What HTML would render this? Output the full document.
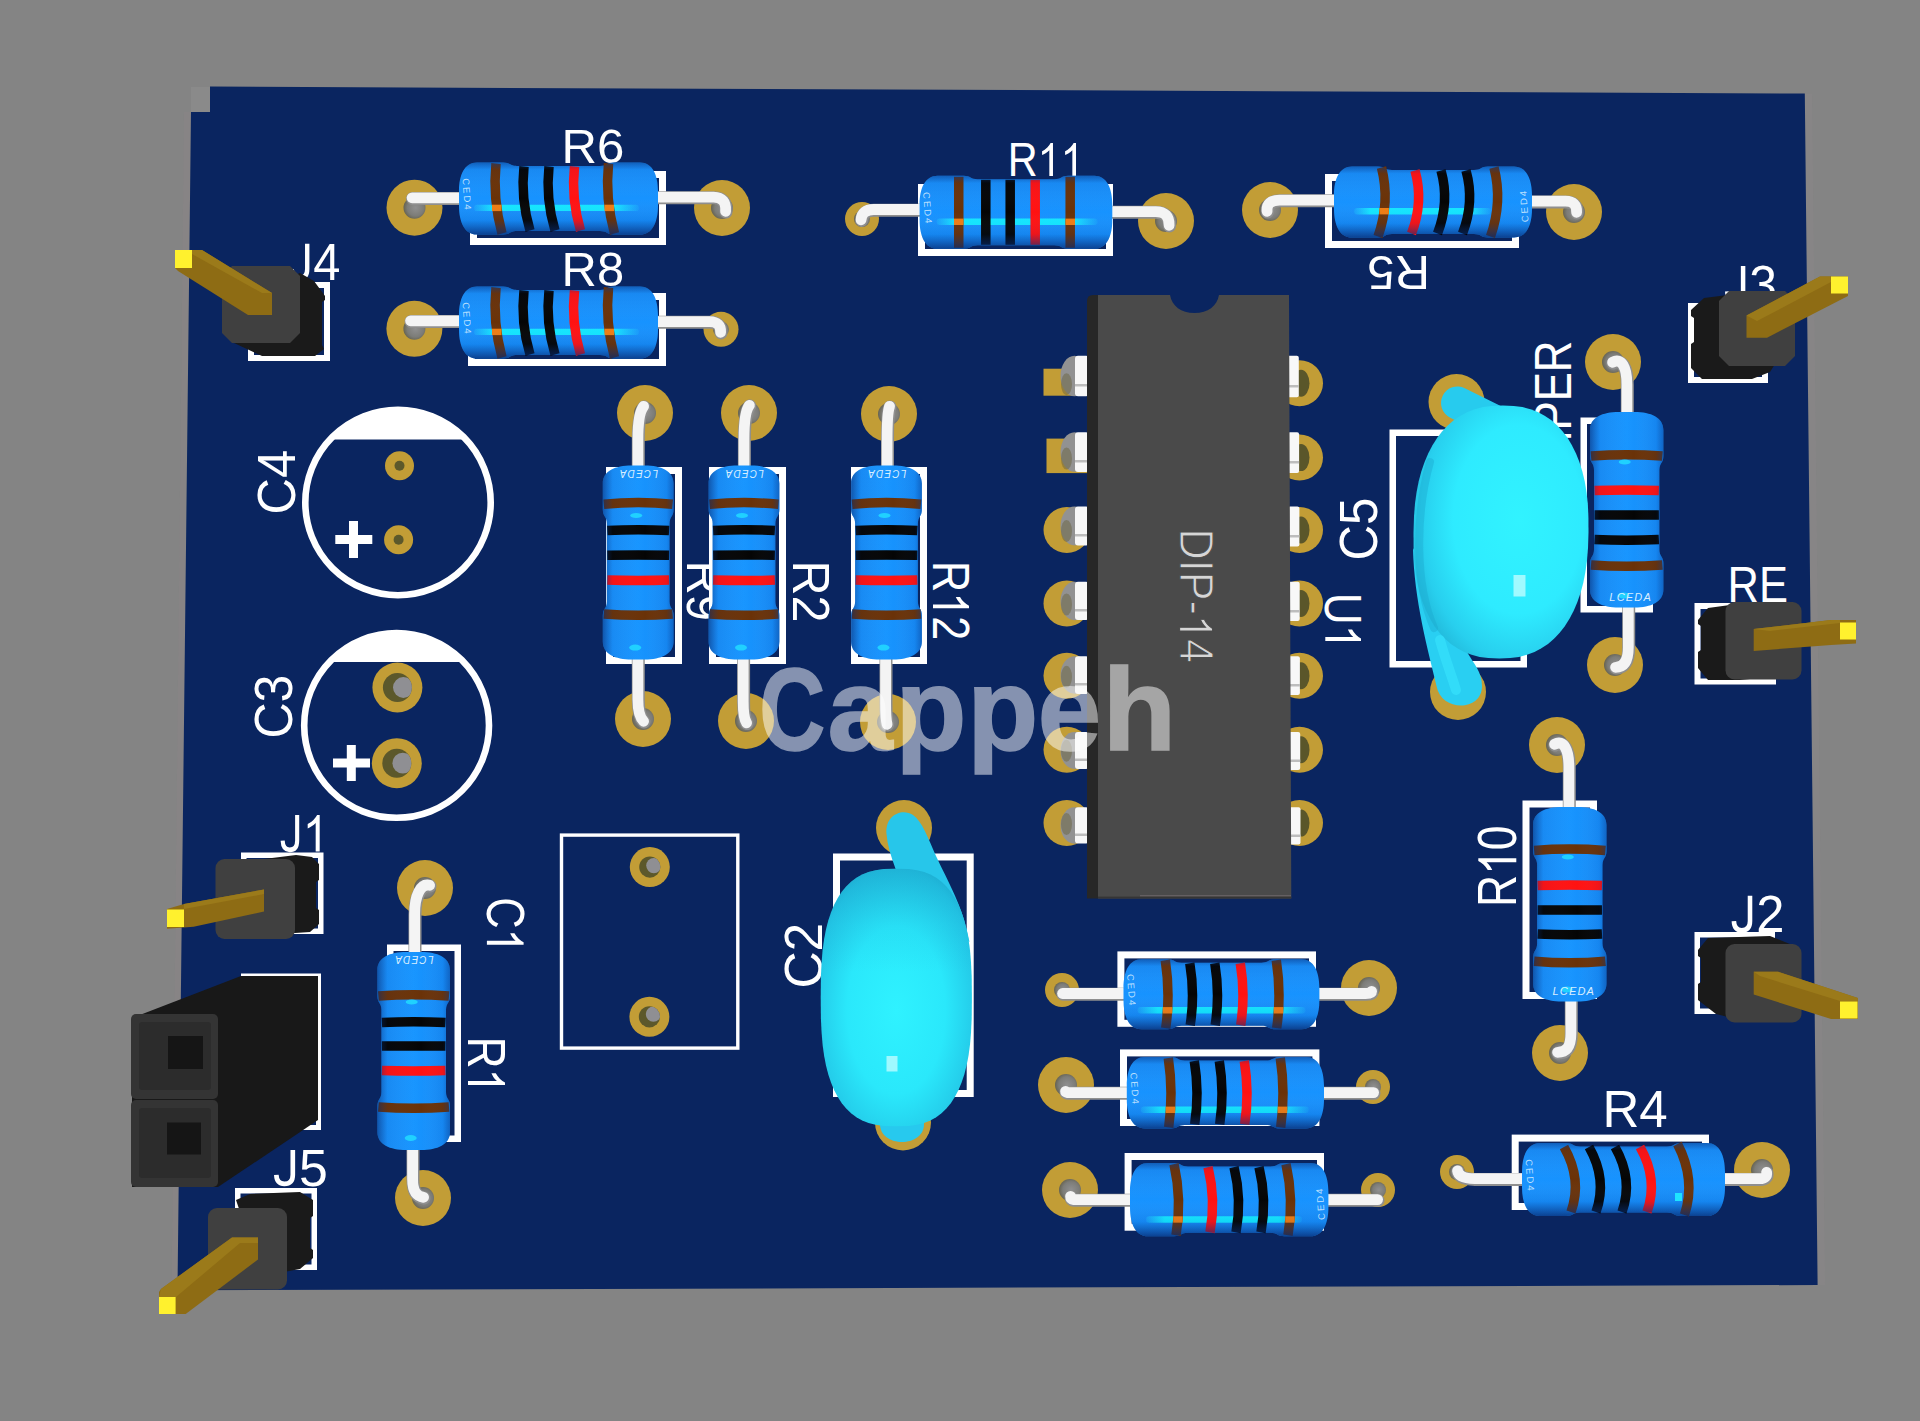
<!DOCTYPE html>
<html><head><meta charset="utf-8"><title>PCB 3D view</title>
<style>html,body{margin:0;padding:0;background:#848484;}svg{display:block;}</style></head><body>
<svg width="1920" height="1421" viewBox="0 0 1920 1421">
<defs>
<radialGradient id="hole" cx="0.55" cy="0.5" r="0.75">
 <stop offset="0" stop-color="#909090"/><stop offset="0.5" stop-color="#7c7c78"/><stop offset="1" stop-color="#4e4724"/>
</radialGradient>
<linearGradient id="gH" x1="0" y1="0" x2="0" y2="1">
 <stop offset="0" stop-color="#1a8cf6"/><stop offset="0.5" stop-color="#1793ff"/><stop offset="1" stop-color="#1688f4"/>
</linearGradient>
<linearGradient id="gHs" x1="0" y1="0" x2="0" y2="1">
 <stop offset="0" stop-color="#0a3a8a" stop-opacity="0.55"/>
 <stop offset="0.10" stop-color="#0a3a8a" stop-opacity="0.05"/>
 <stop offset="0.5" stop-color="#ffffff" stop-opacity="0.0"/>
 <stop offset="0.80" stop-color="#0a3a8a" stop-opacity="0.08"/>
 <stop offset="1" stop-color="#082a70" stop-opacity="0.75"/>
</linearGradient>
<linearGradient id="gV" x1="0" y1="0" x2="0" y2="1">
 <stop offset="0" stop-color="#1a8cf6"/><stop offset="0.5" stop-color="#1795ff"/><stop offset="1" stop-color="#1688f4"/>
</linearGradient>
<linearGradient id="gVs" x1="0" y1="0" x2="0" y2="1">
 <stop offset="0" stop-color="#082a70" stop-opacity="0.55"/>
 <stop offset="0.14" stop-color="#0a3a8a" stop-opacity="0.05"/>
 <stop offset="0.6" stop-color="#ffffff" stop-opacity="0.0"/>
 <stop offset="0.90" stop-color="#0a3a8a" stop-opacity="0.06"/>
 <stop offset="1" stop-color="#0a3a8a" stop-opacity="0.45"/>
</linearGradient>
<radialGradient id="gC" cx="0.6" cy="0.45" r="0.68">
 <stop offset="0" stop-color="#31f3ff"/><stop offset="0.55" stop-color="#2eebff"/><stop offset="0.82" stop-color="#28cfee"/><stop offset="1" stop-color="#20b2d4"/>
</radialGradient>
<radialGradient id="gC2" cx="0.5" cy="0.55" r="0.65">
 <stop offset="0" stop-color="#2ff2ff"/><stop offset="0.5" stop-color="#2ae8fb"/><stop offset="0.85" stop-color="#23c6e6"/><stop offset="1" stop-color="#1ba8cc"/>
</radialGradient>
<linearGradient id="gHi" x1="0" y1="0" x2="1" y2="0">
 <stop offset="0" stop-color="#1fe4ff" stop-opacity="0.15"/><stop offset="0.12" stop-color="#12e6ff" stop-opacity="1"/>
 <stop offset="0.85" stop-color="#12e6ff" stop-opacity="1"/><stop offset="1" stop-color="#1fe4ff" stop-opacity="0.1"/>
</linearGradient>
<linearGradient id="gC2top" x1="0" y1="0" x2="0" y2="1">
 <stop offset="0" stop-color="#1a9cc4" stop-opacity="0.45"/><stop offset="0.22" stop-color="#1fb4d8" stop-opacity="0.18"/>
 <stop offset="0.4" stop-color="#1fb4d8" stop-opacity="0"/><stop offset="1" stop-color="#1fb4d8" stop-opacity="0"/>
</linearGradient>
</defs>
<rect width="1920" height="1421" fill="#848484"/>
<polygon points="191,87 210,87 210,112 191,112" fill="#8a8a8a"/><polygon points="184,112 191,112 177.5,1291 171.5,1291" fill="#888485" opacity="0.6"/>
<polygon points="1804.8,93.5 1812,93.5 1825,1285 1817.6,1285" fill="#8a8788" opacity="0.55"/>
<polygon points="210,86.6 1804.8,93.5 1817.6,1285 177.5,1290.3 191,112 210,112" fill="#0a2560"/>
<g id="silk">
<rect x="473.5" y="174.5" width="189" height="67" fill="none" stroke="#fff" stroke-width="7"/>
<rect x="471.5" y="296.5" width="191" height="66" fill="none" stroke="#fff" stroke-width="7"/>
<rect x="921.5" y="187.5" width="188" height="65" fill="none" stroke="#fff" stroke-width="7"/>
<rect x="1328.5" y="177.5" width="187" height="67" fill="none" stroke="#fff" stroke-width="7"/>
<g transform="translate(565.5,163.3) rotate(0) scale(0.4913,0.4826) translate(-8.0,0)" fill="#fff">
<text x="0.0" y="0" font-family="Liberation Sans, sans-serif" font-size="100">R6</text>
</g>
<g transform="translate(565.5,286.0) rotate(0) scale(0.4892,0.4783) translate(-8.0,0)" fill="#fff">
<text x="0.0" y="0" font-family="Liberation Sans, sans-serif" font-size="100">R8</text>
</g>
<g transform="translate(1011.0,176.0) rotate(0) scale(0.4140,0.4783) translate(-8.0,0)" fill="#fff">
<text x="0.0" y="0" font-family="Liberation Sans, sans-serif" font-size="100">R</text>
<path transform="translate(72.2,0)" d="M 37.2,0 L 28.4,0 L 28.4,-54 Q 25,-50.6 19.5,-47.5 Q 15,-45.1 10.9,-43.7 L 10.9,-51.8 Q 18,-55 23.5,-59.7 Q 29,-64.5 31.5,-69 L 37.2,-69 Z"/>
<path transform="translate(127.8,0)" d="M 37.2,0 L 28.4,0 L 28.4,-54 Q 25,-50.6 19.5,-47.5 Q 15,-45.1 10.9,-43.7 L 10.9,-51.8 Q 18,-55 23.5,-59.7 Q 29,-64.5 31.5,-69 L 37.2,-69 Z"/>
</g>
<g transform="translate(1426.0,255.5) rotate(180) scale(0.4892,0.4855) translate(-8.0,0)" fill="#fff">
<text x="0.0" y="0" font-family="Liberation Sans, sans-serif" font-size="100">R5</text>
</g>
<g transform="translate(289.5,280.0) rotate(0) scale(0.4881,0.5261) translate(-1.5,0)" fill="#fff">
<path transform="translate(0.0,0)" d="M 37.8,-69 L 37.8,-21 C 37.8,-8 31,-3.2 21.5,-3.2 C 12,-3.2 6.5,-9 6,-20.5" fill="none" stroke="#fff" stroke-width="9"/>
<text x="50.0" y="0" font-family="Liberation Sans, sans-serif" font-size="100">4</text>
</g>
<g transform="translate(1725.0,302.0) rotate(0) scale(0.4985,0.5217) translate(-1.5,0)" fill="#fff">
<path transform="translate(0.0,0)" d="M 37.8,-69 L 37.8,-21 C 37.8,-8 31,-3.2 21.5,-3.2 C 12,-3.2 6.5,-9 6,-20.5" fill="none" stroke="#fff" stroke-width="9"/>
<text x="50.0" y="0" font-family="Liberation Sans, sans-serif" font-size="100">3</text>
</g>
<g transform="translate(1731.0,602.0) rotate(0) scale(0.4348,0.5000) translate(-8.0,0)" fill="#fff">
<text x="0.0" y="0" font-family="Liberation Sans, sans-serif" font-size="100">RE</text>
</g>
<g transform="translate(280.6,851.5) rotate(0) scale(0.4562,0.5290) translate(-1.5,0)" fill="#fff">
<path transform="translate(0.0,0)" d="M 37.8,-69 L 37.8,-21 C 37.8,-8 31,-3.2 21.5,-3.2 C 12,-3.2 6.5,-9 6,-20.5" fill="none" stroke="#fff" stroke-width="9"/>
<path transform="translate(50.0,0)" d="M 37.2,0 L 28.4,0 L 28.4,-54 Q 25,-50.6 19.5,-47.5 Q 15,-45.1 10.9,-43.7 L 10.9,-51.8 Q 18,-55 23.5,-59.7 Q 29,-64.5 31.5,-69 L 37.2,-69 Z"/>
</g>
<g transform="translate(274.0,1185.5) rotate(0) scale(0.5180,0.5145) translate(-1.5,0)" fill="#fff">
<path transform="translate(0.0,0)" d="M 37.8,-69 L 37.8,-21 C 37.8,-8 31,-3.2 21.5,-3.2 C 12,-3.2 6.5,-9 6,-20.5" fill="none" stroke="#fff" stroke-width="9"/>
<text x="50.0" y="0" font-family="Liberation Sans, sans-serif" font-size="100">5</text>
</g>
<g transform="translate(1731.6,932.0) rotate(0) scale(0.5071,0.5261) translate(-1.5,0)" fill="#fff">
<path transform="translate(0.0,0)" d="M 37.8,-69 L 37.8,-21 C 37.8,-8 31,-3.2 21.5,-3.2 C 12,-3.2 6.5,-9 6,-20.5" fill="none" stroke="#fff" stroke-width="9"/>
<text x="50.0" y="0" font-family="Liberation Sans, sans-serif" font-size="100">2</text>
</g>
<rect x="251.0" y="285.0" width="76" height="73" fill="none" stroke="#fff" stroke-width="6"/>
<rect x="1691.0" y="306.0" width="74" height="74" fill="none" stroke="#fff" stroke-width="6"/>
<rect x="1697.5" y="606.0" width="75.5" height="75.5" fill="none" stroke="#fff" stroke-width="6"/>
<rect x="243.75" y="855.25" width="77.0" height="76.0" fill="none" stroke="#fff" stroke-width="5.5"/>
<rect x="243.5" y="976.0" width="75" height="151.5" fill="none" stroke="#fff" stroke-width="5"/>
<rect x="237.75" y="1190.75" width="76.5" height="76.5" fill="none" stroke="#fff" stroke-width="5.5"/>
<rect x="1697.25" y="934.75" width="75.0" height="76.5" fill="none" stroke="#fff" stroke-width="5.5"/>
<path d="M 330.0,439.5 A 92.7,92.7 0 0 1 466.0,439.5 Z" fill="#fff"/>
<circle cx="398" cy="502.5" r="92.7" fill="none" stroke="#fff" stroke-width="6.6"/>
<path d="M 329.4,662 A 92.4,92.4 0 0 1 463.8,662 Z" fill="#fff"/>
<circle cx="396.6" cy="725.4" r="92.4" fill="none" stroke="#fff" stroke-width="6.6"/>
<g transform="translate(294.5,512.0) rotate(-90) scale(0.5063,0.5290) translate(-5.0,0)" fill="#fff">
<text x="0.0" y="0" font-family="Liberation Sans, sans-serif" font-size="100">C4</text>
</g>
<g transform="translate(292.0,736.0) rotate(-90) scale(0.5000,0.5362) translate(-5.0,0)" fill="#fff">
<text x="0.0" y="0" font-family="Liberation Sans, sans-serif" font-size="100">C3</text>
</g>
<path d="M 335.3,539.5 H 372.3 M 353.5,521 V 558" stroke="#fff" stroke-width="9" fill="none"/>
<path d="M 333,763 H 370 M 351.3,745 V 781" stroke="#fff" stroke-width="9" fill="none"/>
<rect x="609.5" y="470.5" width="69" height="190" fill="none" stroke="#fff" stroke-width="7"/>
<rect x="712.5" y="470.5" width="70" height="190" fill="none" stroke="#fff" stroke-width="7"/>
<rect x="854.5" y="470.5" width="69" height="190" fill="none" stroke="#fff" stroke-width="7"/>
<g transform="translate(687.0,564.5) rotate(90) scale(0.4696,0.5217) translate(-8.0,0)" fill="#fff">
<text x="0.0" y="0" font-family="Liberation Sans, sans-serif" font-size="100">R9</text>
</g>
<g transform="translate(792.6,564.5) rotate(90) scale(0.4847,0.5232) translate(-8.0,0)" fill="#fff">
<text x="0.0" y="0" font-family="Liberation Sans, sans-serif" font-size="100">R2</text>
</g>
<g transform="translate(933.0,564.5) rotate(90) scale(0.4315,0.5217) translate(-8.0,0)" fill="#fff">
<text x="0.0" y="0" font-family="Liberation Sans, sans-serif" font-size="100">R</text>
<path transform="translate(72.2,0)" d="M 37.2,0 L 28.4,0 L 28.4,-54 Q 25,-50.6 19.5,-47.5 Q 15,-45.1 10.9,-43.7 L 10.9,-51.8 Q 18,-55 23.5,-59.7 Q 29,-64.5 31.5,-69 L 37.2,-69 Z"/>
<text x="127.8" y="0" font-family="Liberation Sans, sans-serif" font-size="100">2</text>
</g>
<g transform="translate(1325.3,596.0) rotate(90) scale(0.4415,0.5174) translate(-7.5,0)" fill="#fff">
<text x="0.0" y="0" font-family="Liberation Sans, sans-serif" font-size="100">U</text>
<path transform="translate(72.2,0)" d="M 37.2,0 L 28.4,0 L 28.4,-54 Q 25,-50.6 19.5,-47.5 Q 15,-45.1 10.9,-43.7 L 10.9,-51.8 Q 18,-55 23.5,-59.7 Q 29,-64.5 31.5,-69 L 37.2,-69 Z"/>
</g>
<g transform="translate(1377.3,558.0) rotate(-90) scale(0.4920,0.5406) translate(-5.0,0)" fill="#fff">
<text x="0.0" y="0" font-family="Liberation Sans, sans-serif" font-size="100">C5</text>
</g>
<rect x="1392.75" y="432.75" width="131.0" height="231.5" fill="none" stroke="#fff" stroke-width="6.5"/>
<g transform="translate(1571.0,520.0) rotate(-90) scale(0.4383,0.5217) translate(-1.5,0)" fill="#fff">
<path transform="translate(0.0,0)" d="M 37.8,-69 L 37.8,-21 C 37.8,-8 31,-3.2 21.5,-3.2 C 12,-3.2 6.5,-9 6,-20.5" fill="none" stroke="#fff" stroke-width="9"/>
<text x="50.0" y="0" font-family="Liberation Sans, sans-serif" font-size="100">UMPER</text>
</g>
<rect x="1583.75" y="420.75" width="66.0" height="188.5" fill="none" stroke="#fff" stroke-width="6.5"/>
<g transform="translate(1516.3,903.4) rotate(-90) scale(0.4442,0.5507) translate(-8.0,0)" fill="#fff">
<text x="0.0" y="0" font-family="Liberation Sans, sans-serif" font-size="100">R</text>
<path transform="translate(72.2,0)" d="M 37.2,0 L 28.4,0 L 28.4,-54 Q 25,-50.6 19.5,-47.5 Q 15,-45.1 10.9,-43.7 L 10.9,-51.8 Q 18,-55 23.5,-59.7 Q 29,-64.5 31.5,-69 L 37.2,-69 Z"/>
<text x="127.8" y="0" font-family="Liberation Sans, sans-serif" font-size="100">0</text>
</g>
<rect x="1526.0" y="804.0" width="67.5" height="191.5" fill="none" stroke="#fff" stroke-width="7"/>
<rect x="390.25" y="947.75" width="67.5" height="191.0" fill="none" stroke="#fff" stroke-width="6.5"/>
<g transform="translate(468.0,1040.0) rotate(90) scale(0.4437,0.5362) translate(-8.0,0)" fill="#fff">
<text x="0.0" y="0" font-family="Liberation Sans, sans-serif" font-size="100">R</text>
<path transform="translate(72.2,0)" d="M 37.2,0 L 28.4,0 L 28.4,-54 Q 25,-50.6 19.5,-47.5 Q 15,-45.1 10.9,-43.7 L 10.9,-51.8 Q 18,-55 23.5,-59.7 Q 29,-64.5 31.5,-69 L 37.2,-69 Z"/>
</g>
<g transform="translate(486.9,899.4) rotate(90) scale(0.4338,0.5319) translate(-5.0,0)" fill="#fff">
<text x="0.0" y="0" font-family="Liberation Sans, sans-serif" font-size="100">C</text>
<path transform="translate(72.2,0)" d="M 37.2,0 L 28.4,0 L 28.4,-54 Q 25,-50.6 19.5,-47.5 Q 15,-45.1 10.9,-43.7 L 10.9,-51.8 Q 18,-55 23.5,-59.7 Q 29,-64.5 31.5,-69 L 37.2,-69 Z"/>
</g>
<rect x="561.5" y="835.1" width="176.30000000000004" height="212.99999999999997" fill="none" stroke="#fff" stroke-width="3.4"/>
<rect x="836.5" y="857.0" width="133.70000000000005" height="236.5" fill="none" stroke="#fff" stroke-width="7"/>
<g transform="translate(822.0,986.0) rotate(-90) scale(0.5149,0.5362) translate(-5.0,0)" fill="#fff">
<text x="0.0" y="0" font-family="Liberation Sans, sans-serif" font-size="100">C2</text>
</g>
<rect x="1120.9" y="954.9" width="191.5999999999999" height="68.39999999999998" fill="none" stroke="#fff" stroke-width="7"/>
<rect x="1123.5" y="1052.9" width="192.4000000000001" height="69.59999999999991" fill="none" stroke="#fff" stroke-width="7"/>
<rect x="1128.1" y="1156.5" width="192.4000000000001" height="70.70000000000005" fill="none" stroke="#fff" stroke-width="7"/>
<rect x="1515.2" y="1138.1" width="190.29999999999995" height="68.40000000000009" fill="none" stroke="#fff" stroke-width="7"/>
<g transform="translate(1606.5,1127.0) rotate(0) scale(0.5107,0.5217) translate(-8.0,0)" fill="#fff">
<text x="0.0" y="0" font-family="Liberation Sans, sans-serif" font-size="100">R4</text>
</g>
</g>
<circle cx="414.5" cy="207.7" r="28" fill="#c29d36"/>
<circle cx="414.5" cy="207.7" r="11" fill="url(#hole)"/>
<circle cx="722" cy="208" r="28" fill="#c29d36"/>
<circle cx="722" cy="208" r="11" fill="url(#hole)"/>
<circle cx="414.4" cy="328.8" r="28" fill="#c29d36"/>
<circle cx="414.4" cy="328.8" r="11" fill="url(#hole)"/>
<circle cx="721" cy="329.3" r="17.5" fill="#c29d36"/>
<circle cx="721" cy="329.3" r="8" fill="url(#hole)"/>
<circle cx="862" cy="219" r="17" fill="#c29d36"/>
<circle cx="862" cy="219" r="8" fill="url(#hole)"/>
<circle cx="1166" cy="221" r="28" fill="#c29d36"/>
<circle cx="1166" cy="221" r="11" fill="url(#hole)"/>
<circle cx="1270" cy="210" r="28" fill="#c29d36"/>
<circle cx="1270" cy="210" r="11" fill="url(#hole)"/>
<circle cx="1574" cy="212" r="28" fill="#c29d36"/>
<circle cx="1574" cy="212" r="11" fill="url(#hole)"/>
<circle cx="645" cy="413" r="28" fill="#c29d36"/>
<circle cx="645" cy="413" r="11" fill="url(#hole)"/>
<circle cx="643" cy="719" r="28" fill="#c29d36"/>
<circle cx="643" cy="719" r="11" fill="url(#hole)"/>
<circle cx="749" cy="413" r="28" fill="#c29d36"/>
<circle cx="749" cy="413" r="11" fill="url(#hole)"/>
<circle cx="746" cy="721" r="28" fill="#c29d36"/>
<circle cx="746" cy="721" r="11" fill="url(#hole)"/>
<circle cx="889" cy="414" r="28" fill="#c29d36"/>
<circle cx="889" cy="414" r="11" fill="url(#hole)"/>
<circle cx="888" cy="722" r="28" fill="#c29d36"/>
<circle cx="888" cy="722" r="11" fill="url(#hole)"/>
<circle cx="1613" cy="362" r="28" fill="#c29d36"/>
<circle cx="1613" cy="362" r="11" fill="url(#hole)"/>
<circle cx="1615" cy="665" r="28" fill="#c29d36"/>
<circle cx="1615" cy="665" r="11" fill="url(#hole)"/>
<circle cx="1557" cy="745" r="28" fill="#c29d36"/>
<circle cx="1557" cy="745" r="11" fill="url(#hole)"/>
<circle cx="1560" cy="1053" r="28" fill="#c29d36"/>
<circle cx="1560" cy="1053" r="11" fill="url(#hole)"/>
<circle cx="425" cy="888" r="28" fill="#c29d36"/>
<circle cx="425" cy="888" r="11" fill="url(#hole)"/>
<circle cx="423" cy="1198" r="28" fill="#c29d36"/>
<circle cx="423" cy="1198" r="11" fill="url(#hole)"/>
<circle cx="1062" cy="990" r="17" fill="#c29d36"/>
<circle cx="1062" cy="990" r="8" fill="url(#hole)"/>
<circle cx="1369" cy="988" r="28" fill="#c29d36"/>
<circle cx="1369" cy="988" r="11" fill="url(#hole)"/>
<circle cx="1066" cy="1085" r="28" fill="#c29d36"/>
<circle cx="1066" cy="1085" r="11" fill="url(#hole)"/>
<circle cx="1373" cy="1087" r="17" fill="#c29d36"/>
<circle cx="1373" cy="1087" r="8" fill="url(#hole)"/>
<circle cx="1070" cy="1190" r="28" fill="#c29d36"/>
<circle cx="1070" cy="1190" r="11" fill="url(#hole)"/>
<circle cx="1378" cy="1190" r="17" fill="#c29d36"/>
<circle cx="1378" cy="1190" r="8" fill="url(#hole)"/>
<circle cx="1457" cy="1172" r="17" fill="#c29d36"/>
<circle cx="1457" cy="1172" r="8" fill="url(#hole)"/>
<circle cx="1762" cy="1170" r="28" fill="#c29d36"/>
<circle cx="1762" cy="1170" r="11" fill="url(#hole)"/>
<circle cx="1456.5" cy="402" r="28" fill="#c29d36"/>
<circle cx="1456.5" cy="402" r="11" fill="url(#hole)"/>
<circle cx="1458" cy="692" r="28" fill="#c29d36"/>
<circle cx="1458" cy="692" r="11" fill="url(#hole)"/>
<circle cx="904" cy="828" r="28" fill="#c29d36"/>
<circle cx="904" cy="828" r="11" fill="url(#hole)"/>
<circle cx="903" cy="1122.5" r="28" fill="#c29d36"/>
<circle cx="903" cy="1122.5" r="11" fill="url(#hole)"/>
<circle cx="399.5" cy="465.7" r="14.5" fill="#c29d36"/>
<circle cx="399.5" cy="465.7" r="5" fill="#5c582b"/>
<circle cx="398.6" cy="539.8" r="14.5" fill="#c29d36"/>
<circle cx="398.6" cy="539.8" r="5" fill="#5c582b"/>
<circle cx="397.4" cy="687.5" r="25" fill="#c29d36"/>
<circle cx="397.4" cy="687.5" r="14.5" fill="#5c582b"/>
<clipPath id="cp397_687"><circle cx="397.4" cy="687.5" r="14.5"/></clipPath>
<circle cx="403.4" cy="687.5" r="10.4" fill="#8f8f93" clip-path="url(#cp397_687)"/>
<circle cx="396.8" cy="763.2" r="25" fill="#c29d36"/>
<circle cx="396.8" cy="763.2" r="14.5" fill="#5c582b"/>
<clipPath id="cp396_763"><circle cx="396.8" cy="763.2" r="14.5"/></clipPath>
<circle cx="402.8" cy="763.2" r="10.4" fill="#8f8f93" clip-path="url(#cp396_763)"/>
<circle cx="649.8" cy="867.1" r="20" fill="#c29d36"/>
<circle cx="649.8" cy="867.1" r="10.6" fill="#5c582b"/>
<clipPath id="cp649_867"><circle cx="649.8" cy="867.1" r="10.6"/></clipPath>
<circle cx="653.8" cy="865.6" r="7.6" fill="#8f8f93" clip-path="url(#cp649_867)"/>
<circle cx="649.4" cy="1016.8" r="20" fill="#c29d36"/>
<circle cx="649.4" cy="1016.8" r="10.6" fill="#5c582b"/>
<clipPath id="cp649_1016"><circle cx="649.4" cy="1016.8" r="10.6"/></clipPath>
<circle cx="653.4" cy="1014.0999999999999" r="7.6" fill="#8f8f93" clip-path="url(#cp649_1016)"/>
<path d="M 459,198.5 L 412.5,198.5" fill="none" stroke="#8f8f8f" stroke-width="13" stroke-linecap="round"/>
<path d="M 459,198.5 L 412.5,198.5" fill="none" stroke="#f4f4f4" stroke-width="10.8" stroke-linecap="round" transform="translate(-0.4,-0.7)"/>
<path d="M 658,197.8 L 714,197.8 Q 727,198 726,212" fill="none" stroke="#8f8f8f" stroke-width="13" stroke-linecap="round"/>
<path d="M 658,197.8 L 714,197.8 Q 727,198 726,212" fill="none" stroke="#f4f4f4" stroke-width="10.8" stroke-linecap="round" transform="translate(-0.4,-0.7)"/>
<path d="M 459,321.5 L 411,321.5" fill="none" stroke="#8f8f8f" stroke-width="13" stroke-linecap="round"/>
<path d="M 459,321.5 L 411,321.5" fill="none" stroke="#f4f4f4" stroke-width="10.8" stroke-linecap="round" transform="translate(-0.4,-0.7)"/>
<path d="M 658,322.3 L 710,322.3 Q 721.5,322.5 721,333" fill="none" stroke="#8f8f8f" stroke-width="13" stroke-linecap="round"/>
<path d="M 658,322.3 L 710,322.3 Q 721.5,322.5 721,333" fill="none" stroke="#f4f4f4" stroke-width="10.8" stroke-linecap="round" transform="translate(-0.4,-0.7)"/>
<path d="M 920,210.2 L 874,210.2 Q 862,210.5 861.5,220.5" fill="none" stroke="#8f8f8f" stroke-width="13" stroke-linecap="round"/>
<path d="M 920,210.2 L 874,210.2 Q 862,210.5 861.5,220.5" fill="none" stroke="#f4f4f4" stroke-width="10.8" stroke-linecap="round" transform="translate(-0.4,-0.7)"/>
<path d="M 1112,212.3 L 1156,212.3 Q 1170,212.5 1169.5,226" fill="none" stroke="#8f8f8f" stroke-width="13" stroke-linecap="round"/>
<path d="M 1112,212.3 L 1156,212.3 Q 1170,212.5 1169.5,226" fill="none" stroke="#f4f4f4" stroke-width="10.8" stroke-linecap="round" transform="translate(-0.4,-0.7)"/>
<path d="M 1334,200.8 L 1280,200.8 Q 1266.5,201 1267.5,212" fill="none" stroke="#8f8f8f" stroke-width="13" stroke-linecap="round"/>
<path d="M 1334,200.8 L 1280,200.8 Q 1266.5,201 1267.5,212" fill="none" stroke="#f4f4f4" stroke-width="10.8" stroke-linecap="round" transform="translate(-0.4,-0.7)"/>
<path d="M 1532,201.9 L 1566,201.9 Q 1577.5,202 1577,213" fill="none" stroke="#8f8f8f" stroke-width="13" stroke-linecap="round"/>
<path d="M 1532,201.9 L 1566,201.9 Q 1577.5,202 1577,213" fill="none" stroke="#f4f4f4" stroke-width="10.8" stroke-linecap="round" transform="translate(-0.4,-0.7)"/>
<path d="M 1123.5,994.2 L 1063,994.2" fill="none" stroke="#8f8f8f" stroke-width="13" stroke-linecap="round"/>
<path d="M 1123.5,994.2 L 1063,994.2" fill="none" stroke="#f4f4f4" stroke-width="10.8" stroke-linecap="round" transform="translate(-0.4,-0.7)"/>
<path d="M 1319.4,994.2 L 1366,994.2 Q 1372,994.2 1372,992" fill="none" stroke="#8f8f8f" stroke-width="13" stroke-linecap="round"/>
<path d="M 1319.4,994.2 L 1366,994.2 Q 1372,994.2 1372,992" fill="none" stroke="#f4f4f4" stroke-width="10.8" stroke-linecap="round" transform="translate(-0.4,-0.7)"/>
<path d="M 1126.8,1093.3 L 1068,1093.3 Q 1066,1093 1066,1092" fill="none" stroke="#8f8f8f" stroke-width="13" stroke-linecap="round"/>
<path d="M 1126.8,1093.3 L 1068,1093.3 Q 1066,1093 1066,1092" fill="none" stroke="#f4f4f4" stroke-width="10.8" stroke-linecap="round" transform="translate(-0.4,-0.7)"/>
<path d="M 1324,1093.3 L 1374,1093.3" fill="none" stroke="#8f8f8f" stroke-width="13" stroke-linecap="round"/>
<path d="M 1324,1093.3 L 1374,1093.3" fill="none" stroke="#f4f4f4" stroke-width="10.8" stroke-linecap="round" transform="translate(-0.4,-0.7)"/>
<path d="M 1130,1200.3 L 1074,1200.3 Q 1071,1200 1071,1197" fill="none" stroke="#8f8f8f" stroke-width="13" stroke-linecap="round"/>
<path d="M 1130,1200.3 L 1074,1200.3 Q 1071,1200 1071,1197" fill="none" stroke="#f4f4f4" stroke-width="10.8" stroke-linecap="round" transform="translate(-0.4,-0.7)"/>
<path d="M 1328.4,1200.3 L 1378,1200.3" fill="none" stroke="#8f8f8f" stroke-width="13" stroke-linecap="round"/>
<path d="M 1328.4,1200.3 L 1378,1200.3" fill="none" stroke="#f4f4f4" stroke-width="10.8" stroke-linecap="round" transform="translate(-0.4,-0.7)"/>
<path d="M 1522,1179.4 L 1475,1179.4 Q 1459,1179 1458,1171.5" fill="none" stroke="#8f8f8f" stroke-width="13" stroke-linecap="round"/>
<path d="M 1522,1179.4 L 1475,1179.4 Q 1459,1179 1458,1171.5" fill="none" stroke="#f4f4f4" stroke-width="10.8" stroke-linecap="round" transform="translate(-0.4,-0.7)"/>
<path d="M 1725,1179.4 L 1760,1179.4 Q 1768,1179 1767,1173" fill="none" stroke="#8f8f8f" stroke-width="13" stroke-linecap="round"/>
<path d="M 1725,1179.4 L 1760,1179.4 Q 1768,1179 1767,1173" fill="none" stroke="#f4f4f4" stroke-width="10.8" stroke-linecap="round" transform="translate(-0.4,-0.7)"/>
<path d="M 644,407 C 640,412 638.3,425 638.3,440 L 638.3,466" fill="none" stroke="#8f8f8f" stroke-width="13" stroke-linecap="round"/>
<path d="M 644,407 C 640,412 638.3,425 638.3,440 L 638.3,466" fill="none" stroke="#f4f4f4" stroke-width="10.8" stroke-linecap="round" transform="translate(-0.4,-0.7)"/>
<path d="M 638.3,659 L 638.3,700 C 638.3,712 640,718 644,722" fill="none" stroke="#8f8f8f" stroke-width="13" stroke-linecap="round"/>
<path d="M 638.3,659 L 638.3,700 C 638.3,712 640,718 644,722" fill="none" stroke="#f4f4f4" stroke-width="10.8" stroke-linecap="round" transform="translate(-0.4,-0.7)"/>
<path d="M 749.8,406 C 746,411 744.4,424 744.4,440 L 744.4,466" fill="none" stroke="#8f8f8f" stroke-width="13" stroke-linecap="round"/>
<path d="M 749.8,406 C 746,411 744.4,424 744.4,440 L 744.4,466" fill="none" stroke="#f4f4f4" stroke-width="10.8" stroke-linecap="round" transform="translate(-0.4,-0.7)"/>
<path d="M 743.6,659 L 743.6,702 C 743.6,714 744.5,720 747,723.6" fill="none" stroke="#8f8f8f" stroke-width="13" stroke-linecap="round"/>
<path d="M 743.6,659 L 743.6,702 C 743.6,714 744.5,720 747,723.6" fill="none" stroke="#f4f4f4" stroke-width="10.8" stroke-linecap="round" transform="translate(-0.4,-0.7)"/>
<path d="M 890,407 C 888,412 887.5,425 887.5,440 L 887.5,466" fill="none" stroke="#8f8f8f" stroke-width="13" stroke-linecap="round"/>
<path d="M 890,407 C 888,412 887.5,425 887.5,440 L 887.5,466" fill="none" stroke="#f4f4f4" stroke-width="10.8" stroke-linecap="round" transform="translate(-0.4,-0.7)"/>
<path d="M 886,659 L 886,704 C 886,716 886.5,721 887.5,725" fill="none" stroke="#8f8f8f" stroke-width="13" stroke-linecap="round"/>
<path d="M 886,659 L 886,704 C 886,716 886.5,721 887.5,725" fill="none" stroke="#f4f4f4" stroke-width="10.8" stroke-linecap="round" transform="translate(-0.4,-0.7)"/>
<path d="M 1613,363 C 1622,358 1627.3,368 1627.3,385 L 1627.3,413" fill="none" stroke="#8f8f8f" stroke-width="13" stroke-linecap="round"/>
<path d="M 1613,363 C 1622,358 1627.3,368 1627.3,385 L 1627.3,413" fill="none" stroke="#f4f4f4" stroke-width="10.8" stroke-linecap="round" transform="translate(-0.4,-0.7)"/>
<path d="M 1628.7,606 L 1628.7,648 C 1628.7,662 1624,668 1616,668" fill="none" stroke="#8f8f8f" stroke-width="13" stroke-linecap="round"/>
<path d="M 1628.7,606 L 1628.7,648 C 1628.7,662 1624,668 1616,668" fill="none" stroke="#f4f4f4" stroke-width="10.8" stroke-linecap="round" transform="translate(-0.4,-0.7)"/>
<path d="M 1555,745 C 1564,740 1569.3,750 1569.3,768 L 1569.3,808" fill="none" stroke="#8f8f8f" stroke-width="13" stroke-linecap="round"/>
<path d="M 1555,745 C 1564,740 1569.3,750 1569.3,768 L 1569.3,808" fill="none" stroke="#f4f4f4" stroke-width="10.8" stroke-linecap="round" transform="translate(-0.4,-0.7)"/>
<path d="M 1571.3,1000 L 1571.3,1034 C 1571.3,1048 1567,1053 1558,1053" fill="none" stroke="#8f8f8f" stroke-width="13" stroke-linecap="round"/>
<path d="M 1571.3,1000 L 1571.3,1034 C 1571.3,1048 1567,1053 1558,1053" fill="none" stroke="#f4f4f4" stroke-width="10.8" stroke-linecap="round" transform="translate(-0.4,-0.7)"/>
<path d="M 430,886 C 421,884 415,896 415,915 L 415,953" fill="none" stroke="#8f8f8f" stroke-width="13" stroke-linecap="round"/>
<path d="M 430,886 C 421,884 415,896 415,915 L 415,953" fill="none" stroke="#f4f4f4" stroke-width="10.8" stroke-linecap="round" transform="translate(-0.4,-0.7)"/>
<path d="M 413,1149 L 413,1180 C 413,1192 417,1197 424,1198" fill="none" stroke="#8f8f8f" stroke-width="13" stroke-linecap="round"/>
<path d="M 413,1149 L 413,1180 C 413,1192 417,1197 424,1198" fill="none" stroke="#f4f4f4" stroke-width="10.8" stroke-linecap="round" transform="translate(-0.4,-0.7)"/>
<g transform="translate(459,198.5)">
<path d="M 18,-36 L 44,-36 C 51.0,-36 51.0,-32.5 58,-32.5 L 141,-32.5 C 148.0,-32.5 148.0,-36 155,-36 L 181,-36 C 193.6,-36 199,-23.4 199,-7.199999999999999 L 199,7.199999999999999 C 199,23.4 193.6,36 181,36 L 155,36 C 148.0,36 148.0,32.5 141,32.5 L 58,32.5 C 51.0,32.5 51.0,36 44,36 L 18,36 C 5.3999999999999995,36 0,23.4 0,7.199999999999999 L 0,-7.199999999999999 C 0,-23.4 5.3999999999999995,-36 18,-36 Z" fill="url(#gH)"/>
<rect x="15" y="6.2" width="165" height="6.4" rx="3.2" fill="url(#gHi)"/>
<path d="M 37,-35 Q 33.5,0 43,35" fill="none" stroke="#6a3208" stroke-width="9.5"/>
<rect x="33.0" y="6.2" width="9.5" height="6.4" fill="#f07c10"/>
<path d="M 65,-32 Q 61.5,0 71,32" fill="none" stroke="#050505" stroke-width="9.5"/>
<path d="M 90,-32 Q 86.5,0 96,32" fill="none" stroke="#050505" stroke-width="9.5"/>
<path d="M 115.5,-32 Q 112.0,0 121.5,32" fill="none" stroke="#ff1212" stroke-width="9.5"/>
<path d="M 149.5,-35 Q 146.0,0 155.5,35" fill="none" stroke="#6a3208" stroke-width="9.5"/>
<rect x="145.5" y="6.2" width="9.5" height="6.4" fill="#f07c10"/>
<path d="M 18,-36 L 44,-36 C 51.0,-36 51.0,-32.5 58,-32.5 L 141,-32.5 C 148.0,-32.5 148.0,-36 155,-36 L 181,-36 C 193.6,-36 199,-23.4 199,-7.199999999999999 L 199,7.199999999999999 C 199,23.4 193.6,36 181,36 L 155,36 C 148.0,36 148.0,32.5 141,32.5 L 58,32.5 C 51.0,32.5 51.0,36 44,36 L 18,36 C 5.3999999999999995,36 0,23.4 0,7.199999999999999 L 0,-7.199999999999999 C 0,-23.4 5.3999999999999995,-36 18,-36 Z" fill="url(#gHs)"/>
<text transform="translate(3.5,-20) rotate(86)" font-family="Liberation Sans, sans-serif" font-size="9.5" fill="#d8eeff" fill-opacity="0.85" letter-spacing="2">CED4</text>
</g>
<g transform="translate(459,322.5)">
<path d="M 18,-36 L 44,-36 C 51.0,-36 51.0,-32.5 58,-32.5 L 141,-32.5 C 148.0,-32.5 148.0,-36 155,-36 L 181,-36 C 193.6,-36 199,-23.4 199,-7.199999999999999 L 199,7.199999999999999 C 199,23.4 193.6,36 181,36 L 155,36 C 148.0,36 148.0,32.5 141,32.5 L 58,32.5 C 51.0,32.5 51.0,36 44,36 L 18,36 C 5.3999999999999995,36 0,23.4 0,7.199999999999999 L 0,-7.199999999999999 C 0,-23.4 5.3999999999999995,-36 18,-36 Z" fill="url(#gH)"/>
<rect x="15" y="6.2" width="165" height="6.4" rx="3.2" fill="url(#gHi)"/>
<path d="M 37,-35 Q 33.5,0 43,35" fill="none" stroke="#6a3208" stroke-width="9.5"/>
<rect x="33.0" y="6.2" width="9.5" height="6.4" fill="#f07c10"/>
<path d="M 65,-32 Q 61.5,0 71,32" fill="none" stroke="#050505" stroke-width="9.5"/>
<path d="M 90,-32 Q 86.5,0 96,32" fill="none" stroke="#050505" stroke-width="9.5"/>
<path d="M 115.5,-32 Q 112.0,0 121.5,32" fill="none" stroke="#ff1212" stroke-width="9.5"/>
<path d="M 149.5,-35 Q 146.0,0 155.5,35" fill="none" stroke="#6a3208" stroke-width="9.5"/>
<rect x="145.5" y="6.2" width="9.5" height="6.4" fill="#f07c10"/>
<path d="M 18,-36 L 44,-36 C 51.0,-36 51.0,-32.5 58,-32.5 L 141,-32.5 C 148.0,-32.5 148.0,-36 155,-36 L 181,-36 C 193.6,-36 199,-23.4 199,-7.199999999999999 L 199,7.199999999999999 C 199,23.4 193.6,36 181,36 L 155,36 C 148.0,36 148.0,32.5 141,32.5 L 58,32.5 C 51.0,32.5 51.0,36 44,36 L 18,36 C 5.3999999999999995,36 0,23.4 0,7.199999999999999 L 0,-7.199999999999999 C 0,-23.4 5.3999999999999995,-36 18,-36 Z" fill="url(#gHs)"/>
<text transform="translate(3.5,-20) rotate(86)" font-family="Liberation Sans, sans-serif" font-size="9.5" fill="#d8eeff" fill-opacity="0.85" letter-spacing="2">CED4</text>
</g>
<g transform="translate(919.6,212.3)">
<path d="M 18,-36.5 L 44,-36.5 C 51.0,-36.5 51.0,-33.0 58,-33.0 L 134.69999999999993,-33.0 C 141.69999999999993,-33.0 141.69999999999993,-36.5 148.69999999999993,-36.5 L 174.69999999999993,-36.5 C 187.29999999999993,-36.5 192.69999999999993,-23.9 192.69999999999993,-7.699999999999999 L 192.69999999999993,7.699999999999999 C 192.69999999999993,23.9 187.29999999999993,36.5 174.69999999999993,36.5 L 148.69999999999993,36.5 C 141.69999999999993,36.5 141.69999999999993,33.0 134.69999999999993,33.0 L 58,33.0 C 51.0,33.0 51.0,36.5 44,36.5 L 18,36.5 C 5.3999999999999995,36.5 0,23.9 0,7.699999999999999 L 0,-7.699999999999999 C 0,-23.9 5.3999999999999995,-36.5 18,-36.5 Z" fill="url(#gH)"/>
<rect x="17" y="6.3" width="161" height="6.4" rx="3.2" fill="url(#gHi)"/>
<path d="M 39.14999999999998,-35.5 Q 39.14999999999998,0 39.14999999999998,35.5" fill="none" stroke="#6a3208" stroke-width="9.5"/>
<rect x="34.4" y="6.3" width="9.5" height="6.4" fill="#f07c10"/>
<path d="M 66.19999999999993,-32.5 Q 66.19999999999993,0 66.19999999999993,32.5" fill="none" stroke="#050505" stroke-width="9.5"/>
<path d="M 90.60000000000002,-32.5 Q 90.60000000000002,0 90.60000000000002,32.5" fill="none" stroke="#050505" stroke-width="9.5"/>
<path d="M 115.60000000000002,-32.5 Q 115.60000000000002,0 115.60000000000002,32.5" fill="none" stroke="#ff1212" stroke-width="9.5"/>
<path d="M 150.60000000000002,-35.5 Q 150.60000000000002,0 150.60000000000002,35.5" fill="none" stroke="#6a3208" stroke-width="9.5"/>
<rect x="145.9" y="6.3" width="9.5" height="6.4" fill="#f07c10"/>
<path d="M 18,-36.5 L 44,-36.5 C 51.0,-36.5 51.0,-33.0 58,-33.0 L 134.69999999999993,-33.0 C 141.69999999999993,-33.0 141.69999999999993,-36.5 148.69999999999993,-36.5 L 174.69999999999993,-36.5 C 187.29999999999993,-36.5 192.69999999999993,-23.9 192.69999999999993,-7.699999999999999 L 192.69999999999993,7.699999999999999 C 192.69999999999993,23.9 187.29999999999993,36.5 174.69999999999993,36.5 L 148.69999999999993,36.5 C 141.69999999999993,36.5 141.69999999999993,33.0 134.69999999999993,33.0 L 58,33.0 C 51.0,33.0 51.0,36.5 44,36.5 L 18,36.5 C 5.3999999999999995,36.5 0,23.9 0,7.699999999999999 L 0,-7.699999999999999 C 0,-23.9 5.3999999999999995,-36.5 18,-36.5 Z" fill="url(#gHs)"/>
<text transform="translate(3.5,-20) rotate(86)" font-family="Liberation Sans, sans-serif" font-size="9.5" fill="#d8eeff" fill-opacity="0.85" letter-spacing="2">CED4</text>
</g>
<g transform="translate(1334,202)">
<path d="M 18,-35.5 L 44,-35.5 C 51.0,-35.5 51.0,-32.0 58,-32.0 L 140,-32.0 C 147.0,-32.0 147.0,-35.5 154,-35.5 L 180,-35.5 C 192.6,-35.5 198,-22.9 198,-6.699999999999999 L 198,6.699999999999999 C 198,22.9 192.6,35.5 180,35.5 L 154,35.5 C 147.0,35.5 147.0,32.0 140,32.0 L 58,32.0 C 51.0,32.0 51.0,35.5 44,35.5 L 18,35.5 C 5.3999999999999995,35.5 0,22.9 0,6.699999999999999 L 0,-6.699999999999999 C 0,-22.9 5.3999999999999995,-35.5 18,-35.5 Z" fill="url(#gH)"/>
<rect x="20" y="6.0" width="137" height="6.4" rx="3.2" fill="url(#gHi)"/>
<path d="M 47.5,-34.5 Q 56.25,0 44,34.5" fill="none" stroke="#6a3208" stroke-width="9.5"/>
<rect x="45.4" y="6.0" width="9.5" height="6.4" fill="#f07c10"/>
<path d="M 81.0,-31.5 Q 89.75,0 77.5,31.5" fill="none" stroke="#ff1212" stroke-width="9.5"/>
<path d="M 107.0,-31.5 Q 115.75,0 103.5,31.5" fill="none" stroke="#050505" stroke-width="9.5"/>
<path d="M 132.0,-31.5 Q 140.75,0 128.5,31.5" fill="none" stroke="#050505" stroke-width="9.5"/>
<path d="M 160.0,-34.5 Q 168.75,0 156.5,34.5" fill="none" stroke="#6a3208" stroke-width="9.5"/>
<path d="M 18,-35.5 L 44,-35.5 C 51.0,-35.5 51.0,-32.0 58,-32.0 L 140,-32.0 C 147.0,-32.0 147.0,-35.5 154,-35.5 L 180,-35.5 C 192.6,-35.5 198,-22.9 198,-6.699999999999999 L 198,6.699999999999999 C 198,22.9 192.6,35.5 180,35.5 L 154,35.5 C 147.0,35.5 147.0,32.0 140,32.0 L 58,32.0 C 51.0,32.0 51.0,35.5 44,35.5 L 18,35.5 C 5.3999999999999995,35.5 0,22.9 0,6.699999999999999 L 0,-6.699999999999999 C 0,-22.9 5.3999999999999995,-35.5 18,-35.5 Z" fill="url(#gHs)"/>
<text transform="translate(194.5,20) rotate(-94)" font-family="Liberation Sans, sans-serif" font-size="9.5" fill="#d8eeff" fill-opacity="0.85" letter-spacing="2">CED4</text>
</g>
<g transform="translate(1123.5,994.2)">
<path d="M 18,-35 L 44,-35 C 51.0,-35 51.0,-31.5 58,-31.5 L 137.9000000000001,-31.5 C 144.9000000000001,-31.5 144.9000000000001,-35 151.9000000000001,-35 L 177.9000000000001,-35 C 190.50000000000009,-35 195.9000000000001,-22.4 195.9000000000001,-6.199999999999999 L 195.9000000000001,6.199999999999999 C 195.9000000000001,22.4 190.50000000000009,35 177.9000000000001,35 L 151.9000000000001,35 C 144.9000000000001,35 144.9000000000001,31.5 137.9000000000001,31.5 L 58,31.5 C 51.0,31.5 51.0,35 44,35 L 18,35 C 5.3999999999999995,35 0,22.4 0,6.199999999999999 L 0,-6.199999999999999 C 0,-22.4 5.3999999999999995,-35 18,-35 Z" fill="url(#gH)"/>
<rect x="14" y="12.9" width="168" height="6.4" rx="3.2" fill="url(#gHi)"/>
<path d="M 41.8,-34 Q 47.0,0 42.2,34" fill="none" stroke="#6a3208" stroke-width="9.5"/>
<rect x="39.3" y="12.9" width="9.5" height="6.4" fill="#f07c10"/>
<path d="M 66.3,-31 Q 71.5,0 66.7,31" fill="none" stroke="#050505" stroke-width="9.5"/>
<path d="M 91.3,-31 Q 96.5,0 91.7,31" fill="none" stroke="#050505" stroke-width="9.5"/>
<path d="M 116.8,-31 Q 122.0,0 117.2,31" fill="none" stroke="#ff1212" stroke-width="9.5"/>
<path d="M 152.8,-34 Q 158.0,0 153.2,34" fill="none" stroke="#6a3208" stroke-width="9.5"/>
<rect x="150.3" y="12.9" width="9.5" height="6.4" fill="#f07c10"/>
<path d="M 18,-35 L 44,-35 C 51.0,-35 51.0,-31.5 58,-31.5 L 137.9000000000001,-31.5 C 144.9000000000001,-31.5 144.9000000000001,-35 151.9000000000001,-35 L 177.9000000000001,-35 C 190.50000000000009,-35 195.9000000000001,-22.4 195.9000000000001,-6.199999999999999 L 195.9000000000001,6.199999999999999 C 195.9000000000001,22.4 190.50000000000009,35 177.9000000000001,35 L 151.9000000000001,35 C 144.9000000000001,35 144.9000000000001,31.5 137.9000000000001,31.5 L 58,31.5 C 51.0,31.5 51.0,35 44,35 L 18,35 C 5.3999999999999995,35 0,22.4 0,6.199999999999999 L 0,-6.199999999999999 C 0,-22.4 5.3999999999999995,-35 18,-35 Z" fill="url(#gHs)"/>
<text transform="translate(3.5,-20) rotate(86)" font-family="Liberation Sans, sans-serif" font-size="9.5" fill="#d8eeff" fill-opacity="0.85" letter-spacing="2">CED4</text>
</g>
<g transform="translate(1126.8,1092.7)">
<path d="M 18,-35.7 L 44,-35.7 C 51.0,-35.7 51.0,-32.2 58,-32.2 L 139.20000000000005,-32.2 C 146.20000000000005,-32.2 146.20000000000005,-35.7 153.20000000000005,-35.7 L 179.20000000000005,-35.7 C 191.80000000000004,-35.7 197.20000000000005,-23.1 197.20000000000005,-6.900000000000002 L 197.20000000000005,6.900000000000002 C 197.20000000000005,23.1 191.80000000000004,35.7 179.20000000000005,35.7 L 153.20000000000005,35.7 C 146.20000000000005,35.7 146.20000000000005,32.2 139.20000000000005,32.2 L 58,32.2 C 51.0,32.2 51.0,35.7 44,35.7 L 18,35.7 C 5.3999999999999995,35.7 0,23.1 0,6.900000000000002 L 0,-6.900000000000002 C 0,-23.1 5.3999999999999995,-35.7 18,-35.7 Z" fill="url(#gH)"/>
<rect x="14" y="13.9" width="168" height="6.4" rx="3.2" fill="url(#gHi)"/>
<path d="M 41.50000000000004,-34.7 Q 46.700000000000045,0 41.90000000000005,34.7" fill="none" stroke="#6a3208" stroke-width="9.5"/>
<rect x="38.9" y="13.9" width="9.5" height="6.4" fill="#f07c10"/>
<path d="M 67.50000000000004,-31.700000000000003 Q 72.70000000000005,0 67.90000000000005,31.700000000000003" fill="none" stroke="#050505" stroke-width="9.5"/>
<path d="M 92.50000000000004,-31.700000000000003 Q 97.70000000000005,0 92.90000000000005,31.700000000000003" fill="none" stroke="#050505" stroke-width="9.5"/>
<path d="M 117.50000000000004,-31.700000000000003 Q 122.70000000000005,0 117.90000000000005,31.700000000000003" fill="none" stroke="#ff1212" stroke-width="9.5"/>
<path d="M 153.50000000000006,-34.7 Q 158.70000000000005,0 153.90000000000003,34.7" fill="none" stroke="#6a3208" stroke-width="9.5"/>
<rect x="150.9" y="13.9" width="9.5" height="6.4" fill="#f07c10"/>
<path d="M 18,-35.7 L 44,-35.7 C 51.0,-35.7 51.0,-32.2 58,-32.2 L 139.20000000000005,-32.2 C 146.20000000000005,-32.2 146.20000000000005,-35.7 153.20000000000005,-35.7 L 179.20000000000005,-35.7 C 191.80000000000004,-35.7 197.20000000000005,-23.1 197.20000000000005,-6.900000000000002 L 197.20000000000005,6.900000000000002 C 197.20000000000005,23.1 191.80000000000004,35.7 179.20000000000005,35.7 L 153.20000000000005,35.7 C 146.20000000000005,35.7 146.20000000000005,32.2 139.20000000000005,32.2 L 58,32.2 C 51.0,32.2 51.0,35.7 44,35.7 L 18,35.7 C 5.3999999999999995,35.7 0,23.1 0,6.900000000000002 L 0,-6.900000000000002 C 0,-23.1 5.3999999999999995,-35.7 18,-35.7 Z" fill="url(#gHs)"/>
<text transform="translate(3.5,-20) rotate(86)" font-family="Liberation Sans, sans-serif" font-size="9.5" fill="#d8eeff" fill-opacity="0.85" letter-spacing="2">CED4</text>
</g>
<g transform="translate(1130,1199.7)">
<path d="M 18,-36.6 L 44,-36.6 C 51.0,-36.6 51.0,-33.1 58,-33.1 L 140.4000000000001,-33.1 C 147.4000000000001,-33.1 147.4000000000001,-36.6 154.4000000000001,-36.6 L 180.4000000000001,-36.6 C 193.00000000000009,-36.6 198.4000000000001,-24.0 198.4000000000001,-7.800000000000001 L 198.4000000000001,7.800000000000001 C 198.4000000000001,24.0 193.00000000000009,36.6 180.4000000000001,36.6 L 154.4000000000001,36.6 C 147.4000000000001,36.6 147.4000000000001,33.1 140.4000000000001,33.1 L 58,33.1 C 51.0,33.1 51.0,36.6 44,36.6 L 18,36.6 C 5.3999999999999995,36.6 0,24.0 0,7.800000000000001 L 0,-7.800000000000001 C 0,-24.0 5.3999999999999995,-36.6 18,-36.6 Z" fill="url(#gH)"/>
<rect x="16" y="16.6" width="156" height="6.4" rx="3.2" fill="url(#gHi)"/>
<path d="M 44,-35.6 Q 52,0 46,35.6" fill="none" stroke="#6a3208" stroke-width="9.5"/>
<rect x="43.2" y="16.6" width="9.5" height="6.4" fill="#f07c10"/>
<path d="M 78,-32.6 Q 86,0 80,32.6" fill="none" stroke="#ff1212" stroke-width="9.5"/>
<path d="M 104,-32.6 Q 112,0 106,32.6" fill="none" stroke="#050505" stroke-width="9.5"/>
<path d="M 129,-32.6 Q 137,0 131,32.6" fill="none" stroke="#050505" stroke-width="9.5"/>
<path d="M 156,-35.6 Q 164,0 158,35.6" fill="none" stroke="#6a3208" stroke-width="9.5"/>
<rect x="155.2" y="16.6" width="9.5" height="6.4" fill="#f07c10"/>
<path d="M 18,-36.6 L 44,-36.6 C 51.0,-36.6 51.0,-33.1 58,-33.1 L 140.4000000000001,-33.1 C 147.4000000000001,-33.1 147.4000000000001,-36.6 154.4000000000001,-36.6 L 180.4000000000001,-36.6 C 193.00000000000009,-36.6 198.4000000000001,-24.0 198.4000000000001,-7.800000000000001 L 198.4000000000001,7.800000000000001 C 198.4000000000001,24.0 193.00000000000009,36.6 180.4000000000001,36.6 L 154.4000000000001,36.6 C 147.4000000000001,36.6 147.4000000000001,33.1 140.4000000000001,33.1 L 58,33.1 C 51.0,33.1 51.0,36.6 44,36.6 L 18,36.6 C 5.3999999999999995,36.6 0,24.0 0,7.800000000000001 L 0,-7.800000000000001 C 0,-24.0 5.3999999999999995,-36.6 18,-36.6 Z" fill="url(#gHs)"/>
<text transform="translate(194.9000000000001,20) rotate(-94)" font-family="Liberation Sans, sans-serif" font-size="9.5" fill="#d8eeff" fill-opacity="0.85" letter-spacing="2">CED4</text>
</g>
<g transform="translate(1522,1179.5)">
<path d="M 18,-36.5 L 44,-36.5 C 51.0,-36.5 51.0,-33.0 58,-33.0 L 145,-33.0 C 152.0,-33.0 152.0,-36.5 159,-36.5 L 185,-36.5 C 197.6,-36.5 203,-23.9 203,-7.699999999999999 L 203,7.699999999999999 C 203,23.9 197.6,36.5 185,36.5 L 159,36.5 C 152.0,36.5 152.0,33.0 145,33.0 L 58,33.0 C 51.0,33.0 51.0,36.5 44,36.5 L 18,36.5 C 5.3999999999999995,36.5 0,23.9 0,7.699999999999999 L 0,-7.699999999999999 C 0,-23.9 5.3999999999999995,-36.5 18,-36.5 Z" fill="url(#gH)"/>
<path d="M 42,-32.5 Q 60.5,0 49,32.5" fill="none" stroke="#6a3208" stroke-width="9.5"/>
<path d="M 67,-32.5 Q 85.5,0 74,32.5" fill="none" stroke="#050505" stroke-width="9.5"/>
<path d="M 93,-32.5 Q 111.5,0 100,32.5" fill="none" stroke="#050505" stroke-width="9.5"/>
<path d="M 118,-32.5 Q 136.5,0 125,32.5" fill="none" stroke="#ff1212" stroke-width="9.5"/>
<path d="M 155.5,-35.5 Q 174.0,0 162.5,35.5" fill="none" stroke="#6a3208" stroke-width="9.5"/>
<path d="M 18,-36.5 L 44,-36.5 C 51.0,-36.5 51.0,-33.0 58,-33.0 L 145,-33.0 C 152.0,-33.0 152.0,-36.5 159,-36.5 L 185,-36.5 C 197.6,-36.5 203,-23.9 203,-7.699999999999999 L 203,7.699999999999999 C 203,23.9 197.6,36.5 185,36.5 L 159,36.5 C 152.0,36.5 152.0,33.0 145,33.0 L 58,33.0 C 51.0,33.0 51.0,36.5 44,36.5 L 18,36.5 C 5.3999999999999995,36.5 0,23.9 0,7.699999999999999 L 0,-7.699999999999999 C 0,-23.9 5.3999999999999995,-36.5 18,-36.5 Z" fill="url(#gHs)"/>
<text transform="translate(3.5,-20) rotate(86)" font-family="Liberation Sans, sans-serif" font-size="9.5" fill="#d8eeff" fill-opacity="0.85" letter-spacing="2">CED4</text>
</g>
<rect x="1675" y="1193" width="7" height="8" fill="#1fe4ff"/>
<g transform="translate(638.2,465.6) rotate(90) scale(1,-1)">
<path d="M 18,-35.4 L 44,-35.4 C 51.0,-35.4 51.0,-31.4 58,-31.4 L 136.0,-31.4 C 143.0,-31.4 143.0,-35.4 150.0,-35.4 L 176.0,-35.4 C 188.6,-35.4 194.0,-22.799999999999997 194.0,-6.599999999999998 L 194.0,6.599999999999998 C 194.0,22.799999999999997 188.6,35.4 176.0,35.4 L 150.0,35.4 C 143.0,35.4 143.0,31.4 136.0,31.4 L 58,31.4 C 51.0,31.4 51.0,35.4 44,35.4 L 18,35.4 C 5.3999999999999995,35.4 0,22.799999999999997 0,6.599999999999998 L 0,-6.599999999999998 C 0,-22.799999999999997 5.3999999999999995,-35.4 18,-35.4 Z" fill="url(#gV)"/>
<path d="M 38.6,-34.4 Q 35.4,0 38.6,34.4" fill="none" stroke="#6a3208" stroke-width="9.5"/>
<path d="M 65.0,-30.9 Q 63.3,0 65.0,30.9" fill="none" stroke="#050505" stroke-width="9.5"/>
<path d="M 89.6,-30.9 Q 89.1,0 89.6,30.9" fill="none" stroke="#050505" stroke-width="9.5"/>
<path d="M 114.5,-30.9 Q 115.5,0 114.5,30.9" fill="none" stroke="#ff1212" stroke-width="9.5"/>
<path d="M 148.4,-34.4 Q 151.1,0 148.4,34.4" fill="none" stroke="#6a3208" stroke-width="9.5"/>
<path d="M 18,-35.4 L 44,-35.4 C 51.0,-35.4 51.0,-31.4 58,-31.4 L 136.0,-31.4 C 143.0,-31.4 143.0,-35.4 150.0,-35.4 L 176.0,-35.4 C 188.6,-35.4 194.0,-22.799999999999997 194.0,-6.599999999999998 L 194.0,6.599999999999998 C 194.0,22.799999999999997 188.6,35.4 176.0,35.4 L 150.0,35.4 C 143.0,35.4 143.0,31.4 136.0,31.4 L 58,31.4 C 51.0,31.4 51.0,35.4 44,35.4 L 18,35.4 C 5.3999999999999995,35.4 0,22.799999999999997 0,6.599999999999998 L 0,-6.599999999999998 C 0,-22.799999999999997 5.3999999999999995,-35.4 18,-35.4 Z" fill="url(#gVs)"/>
</g>
<ellipse cx="636.2" cy="515.6" rx="6" ry="2.5" fill="#22e0ff" opacity="0.8"/>
<ellipse cx="635.2" cy="647.6" rx="6" ry="3" fill="#22e0ff" opacity="0.8"/>
<text x="638.2" y="475.6" text-anchor="middle" transform="rotate(180 638.2 472.6)" font-family="Liberation Sans, sans-serif" font-size="10" font-style="italic" fill="#d8eeff" letter-spacing="1.2">LCEDA</text>
<g transform="translate(744,465.6) rotate(90) scale(1,-1)">
<path d="M 18,-35.4 L 44,-35.4 C 51.0,-35.4 51.0,-31.4 58,-31.4 L 136.0,-31.4 C 143.0,-31.4 143.0,-35.4 150.0,-35.4 L 176.0,-35.4 C 188.6,-35.4 194.0,-22.799999999999997 194.0,-6.599999999999998 L 194.0,6.599999999999998 C 194.0,22.799999999999997 188.6,35.4 176.0,35.4 L 150.0,35.4 C 143.0,35.4 143.0,31.4 136.0,31.4 L 58,31.4 C 51.0,31.4 51.0,35.4 44,35.4 L 18,35.4 C 5.3999999999999995,35.4 0,22.799999999999997 0,6.599999999999998 L 0,-6.599999999999998 C 0,-22.799999999999997 5.3999999999999995,-35.4 18,-35.4 Z" fill="url(#gV)"/>
<path d="M 38.6,-34.4 Q 35.4,0 38.6,34.4" fill="none" stroke="#6a3208" stroke-width="9.5"/>
<path d="M 65.0,-30.9 Q 63.3,0 65.0,30.9" fill="none" stroke="#050505" stroke-width="9.5"/>
<path d="M 89.6,-30.9 Q 89.1,0 89.6,30.9" fill="none" stroke="#050505" stroke-width="9.5"/>
<path d="M 114.5,-30.9 Q 115.5,0 114.5,30.9" fill="none" stroke="#ff1212" stroke-width="9.5"/>
<path d="M 148.4,-34.4 Q 151.1,0 148.4,34.4" fill="none" stroke="#6a3208" stroke-width="9.5"/>
<path d="M 18,-35.4 L 44,-35.4 C 51.0,-35.4 51.0,-31.4 58,-31.4 L 136.0,-31.4 C 143.0,-31.4 143.0,-35.4 150.0,-35.4 L 176.0,-35.4 C 188.6,-35.4 194.0,-22.799999999999997 194.0,-6.599999999999998 L 194.0,6.599999999999998 C 194.0,22.799999999999997 188.6,35.4 176.0,35.4 L 150.0,35.4 C 143.0,35.4 143.0,31.4 136.0,31.4 L 58,31.4 C 51.0,31.4 51.0,35.4 44,35.4 L 18,35.4 C 5.3999999999999995,35.4 0,22.799999999999997 0,6.599999999999998 L 0,-6.599999999999998 C 0,-22.799999999999997 5.3999999999999995,-35.4 18,-35.4 Z" fill="url(#gVs)"/>
</g>
<ellipse cx="742" cy="515.6" rx="6" ry="2.5" fill="#22e0ff" opacity="0.8"/>
<ellipse cx="741" cy="647.6" rx="6" ry="3" fill="#22e0ff" opacity="0.8"/>
<text x="744" y="475.6" text-anchor="middle" transform="rotate(180 744 472.6)" font-family="Liberation Sans, sans-serif" font-size="10" font-style="italic" fill="#d8eeff" letter-spacing="1.2">LCEDA</text>
<g transform="translate(886.5,465.6) rotate(90) scale(1,-1)">
<path d="M 18,-35.4 L 44,-35.4 C 51.0,-35.4 51.0,-31.4 58,-31.4 L 136.0,-31.4 C 143.0,-31.4 143.0,-35.4 150.0,-35.4 L 176.0,-35.4 C 188.6,-35.4 194.0,-22.799999999999997 194.0,-6.599999999999998 L 194.0,6.599999999999998 C 194.0,22.799999999999997 188.6,35.4 176.0,35.4 L 150.0,35.4 C 143.0,35.4 143.0,31.4 136.0,31.4 L 58,31.4 C 51.0,31.4 51.0,35.4 44,35.4 L 18,35.4 C 5.3999999999999995,35.4 0,22.799999999999997 0,6.599999999999998 L 0,-6.599999999999998 C 0,-22.799999999999997 5.3999999999999995,-35.4 18,-35.4 Z" fill="url(#gV)"/>
<path d="M 38.6,-34.4 Q 35.4,0 38.6,34.4" fill="none" stroke="#6a3208" stroke-width="9.5"/>
<path d="M 65.0,-30.9 Q 63.3,0 65.0,30.9" fill="none" stroke="#050505" stroke-width="9.5"/>
<path d="M 89.6,-30.9 Q 89.1,0 89.6,30.9" fill="none" stroke="#050505" stroke-width="9.5"/>
<path d="M 114.5,-30.9 Q 115.5,0 114.5,30.9" fill="none" stroke="#ff1212" stroke-width="9.5"/>
<path d="M 148.4,-34.4 Q 151.1,0 148.4,34.4" fill="none" stroke="#6a3208" stroke-width="9.5"/>
<path d="M 18,-35.4 L 44,-35.4 C 51.0,-35.4 51.0,-31.4 58,-31.4 L 136.0,-31.4 C 143.0,-31.4 143.0,-35.4 150.0,-35.4 L 176.0,-35.4 C 188.6,-35.4 194.0,-22.799999999999997 194.0,-6.599999999999998 L 194.0,6.599999999999998 C 194.0,22.799999999999997 188.6,35.4 176.0,35.4 L 150.0,35.4 C 143.0,35.4 143.0,31.4 136.0,31.4 L 58,31.4 C 51.0,31.4 51.0,35.4 44,35.4 L 18,35.4 C 5.3999999999999995,35.4 0,22.799999999999997 0,6.599999999999998 L 0,-6.599999999999998 C 0,-22.799999999999997 5.3999999999999995,-35.4 18,-35.4 Z" fill="url(#gVs)"/>
</g>
<ellipse cx="884.5" cy="515.6" rx="6" ry="2.5" fill="#22e0ff" opacity="0.8"/>
<ellipse cx="883.5" cy="647.6" rx="6" ry="3" fill="#22e0ff" opacity="0.8"/>
<text x="886.5" y="475.6" text-anchor="middle" transform="rotate(180 886.5 472.6)" font-family="Liberation Sans, sans-serif" font-size="10" font-style="italic" fill="#d8eeff" letter-spacing="1.2">LCEDA</text>
<g transform="translate(1626.7,412) rotate(90) scale(1,-1)">
<path d="M 18,-36.7 L 44,-36.7 C 51.0,-36.7 51.0,-32.7 58,-32.7 L 137.5,-32.7 C 144.5,-32.7 144.5,-36.7 151.5,-36.7 L 177.5,-36.7 C 190.1,-36.7 195.5,-24.1 195.5,-7.900000000000002 L 195.5,7.900000000000002 C 195.5,24.1 190.1,36.7 177.5,36.7 L 151.5,36.7 C 144.5,36.7 144.5,32.7 137.5,32.7 L 58,32.7 C 51.0,32.7 51.0,36.7 44,36.7 L 18,36.7 C 5.3999999999999995,36.7 0,24.1 0,7.900000000000002 L 0,-7.900000000000002 C 0,-24.1 5.3999999999999995,-36.7 18,-36.7 Z" fill="url(#gV)"/>
<path d="M 44.1,-35.7 Q 41.2,0 44.1,35.7" fill="none" stroke="#6a3208" stroke-width="9.5"/>
<path d="M 78.4,-32.2 Q 77.4,0 78.4,32.2" fill="none" stroke="#ff1212" stroke-width="9.5"/>
<path d="M 102.9,-32.2 Q 103.2,0 102.9,32.2" fill="none" stroke="#050505" stroke-width="9.5"/>
<path d="M 127.4,-32.2 Q 129.0,0 127.4,32.2" fill="none" stroke="#050505" stroke-width="9.5"/>
<path d="M 152.9,-35.7 Q 155.8,0 152.9,35.7" fill="none" stroke="#6a3208" stroke-width="9.5"/>
<path d="M 18,-36.7 L 44,-36.7 C 51.0,-36.7 51.0,-32.7 58,-32.7 L 137.5,-32.7 C 144.5,-32.7 144.5,-36.7 151.5,-36.7 L 177.5,-36.7 C 190.1,-36.7 195.5,-24.1 195.5,-7.900000000000002 L 195.5,7.900000000000002 C 195.5,24.1 190.1,36.7 177.5,36.7 L 151.5,36.7 C 144.5,36.7 144.5,32.7 137.5,32.7 L 58,32.7 C 51.0,32.7 51.0,36.7 44,36.7 L 18,36.7 C 5.3999999999999995,36.7 0,24.1 0,7.900000000000002 L 0,-7.900000000000002 C 0,-24.1 5.3999999999999995,-36.7 18,-36.7 Z" fill="url(#gVs)"/>
</g>
<ellipse cx="1624.7" cy="462" rx="6" ry="2.5" fill="#22e0ff" opacity="0.8"/>
<ellipse cx="1623.7" cy="595.5" rx="6" ry="3" fill="#22e0ff" opacity="0.8"/>
<text x="1630.7" y="601.0" text-anchor="middle" font-family="Liberation Sans, sans-serif" font-size="11" font-style="italic" fill="#d8eeff" letter-spacing="1.2">LCEDA</text>
<g transform="translate(1569.8,807) rotate(90) scale(1,-1)">
<path d="M 18,-36.7 L 44,-36.7 C 51.0,-36.7 51.0,-32.7 58,-32.7 L 136.39999999999998,-32.7 C 143.39999999999998,-32.7 143.39999999999998,-36.7 150.39999999999998,-36.7 L 176.39999999999998,-36.7 C 188.99999999999997,-36.7 194.39999999999998,-24.1 194.39999999999998,-7.900000000000002 L 194.39999999999998,7.900000000000002 C 194.39999999999998,24.1 188.99999999999997,36.7 176.39999999999998,36.7 L 150.39999999999998,36.7 C 143.39999999999998,36.7 143.39999999999998,32.7 136.39999999999998,32.7 L 58,32.7 C 51.0,32.7 51.0,36.7 44,36.7 L 18,36.7 C 5.3999999999999995,36.7 0,24.1 0,7.900000000000002 L 0,-7.900000000000002 C 0,-24.1 5.3999999999999995,-36.7 18,-36.7 Z" fill="url(#gV)"/>
<path d="M 43.4,-35.7 Q 40.5,0 43.4,35.7" fill="none" stroke="#6a3208" stroke-width="9.5"/>
<path d="M 78.4,-32.2 Q 77.4,0 78.4,32.2" fill="none" stroke="#ff1212" stroke-width="9.5"/>
<path d="M 102.9,-32.2 Q 103.2,0 102.9,32.2" fill="none" stroke="#050505" stroke-width="9.5"/>
<path d="M 126.9,-32.2 Q 128.5,0 126.9,32.2" fill="none" stroke="#050505" stroke-width="9.5"/>
<path d="M 154.3,-35.7 Q 157.4,0 154.3,35.7" fill="none" stroke="#6a3208" stroke-width="9.5"/>
<path d="M 18,-36.7 L 44,-36.7 C 51.0,-36.7 51.0,-32.7 58,-32.7 L 136.39999999999998,-32.7 C 143.39999999999998,-32.7 143.39999999999998,-36.7 150.39999999999998,-36.7 L 176.39999999999998,-36.7 C 188.99999999999997,-36.7 194.39999999999998,-24.1 194.39999999999998,-7.900000000000002 L 194.39999999999998,7.900000000000002 C 194.39999999999998,24.1 188.99999999999997,36.7 176.39999999999998,36.7 L 150.39999999999998,36.7 C 143.39999999999998,36.7 143.39999999999998,32.7 136.39999999999998,32.7 L 58,32.7 C 51.0,32.7 51.0,36.7 44,36.7 L 18,36.7 C 5.3999999999999995,36.7 0,24.1 0,7.900000000000002 L 0,-7.900000000000002 C 0,-24.1 5.3999999999999995,-36.7 18,-36.7 Z" fill="url(#gVs)"/>
</g>
<ellipse cx="1567.8" cy="857" rx="6" ry="2.5" fill="#22e0ff" opacity="0.8"/>
<ellipse cx="1566.8" cy="989.4" rx="6" ry="3" fill="#22e0ff" opacity="0.8"/>
<text x="1573.8" y="994.9" text-anchor="middle" font-family="Liberation Sans, sans-serif" font-size="11" font-style="italic" fill="#d8eeff" letter-spacing="1.2">LCEDA</text>
<g transform="translate(413.7,952) rotate(90) scale(1,-1)">
<path d="M 18,-36.3 L 44,-36.3 C 51.0,-36.3 51.0,-32.3 58,-32.3 L 140,-32.3 C 147.0,-32.3 147.0,-36.3 154,-36.3 L 180,-36.3 C 192.6,-36.3 198,-23.699999999999996 198,-7.4999999999999964 L 198,7.4999999999999964 C 198,23.699999999999996 192.6,36.3 180,36.3 L 154,36.3 C 147.0,36.3 147.0,32.3 140,32.3 L 58,32.3 C 51.0,32.3 51.0,36.3 44,36.3 L 18,36.3 C 5.3999999999999995,36.3 0,23.699999999999996 0,7.4999999999999964 L 0,-7.4999999999999964 C 0,-23.699999999999996 5.3999999999999995,-36.3 18,-36.3 Z" fill="url(#gV)"/>
<path d="M 44.1,-35.3 Q 41.2,0 44.1,35.3" fill="none" stroke="#6a3208" stroke-width="9.5"/>
<path d="M 70.6,-31.799999999999997 Q 69.1,0 70.6,31.799999999999997" fill="none" stroke="#050505" stroke-width="9.5"/>
<path d="M 94.1,-31.799999999999997 Q 93.8,0 94.1,31.799999999999997" fill="none" stroke="#050505" stroke-width="9.5"/>
<path d="M 118.6,-31.799999999999997 Q 119.6,0 118.6,31.799999999999997" fill="none" stroke="#ff1212" stroke-width="9.5"/>
<path d="M 154.9,-35.3 Q 157.8,0 154.9,35.3" fill="none" stroke="#6a3208" stroke-width="9.5"/>
<path d="M 18,-36.3 L 44,-36.3 C 51.0,-36.3 51.0,-32.3 58,-32.3 L 140,-32.3 C 147.0,-32.3 147.0,-36.3 154,-36.3 L 180,-36.3 C 192.6,-36.3 198,-23.699999999999996 198,-7.4999999999999964 L 198,7.4999999999999964 C 198,23.699999999999996 192.6,36.3 180,36.3 L 154,36.3 C 147.0,36.3 147.0,32.3 140,32.3 L 58,32.3 C 51.0,32.3 51.0,36.3 44,36.3 L 18,36.3 C 5.3999999999999995,36.3 0,23.699999999999996 0,7.4999999999999964 L 0,-7.4999999999999964 C 0,-23.699999999999996 5.3999999999999995,-36.3 18,-36.3 Z" fill="url(#gVs)"/>
</g>
<ellipse cx="411.7" cy="1002" rx="6" ry="2.5" fill="#22e0ff" opacity="0.8"/>
<ellipse cx="410.7" cy="1138" rx="6" ry="3" fill="#22e0ff" opacity="0.8"/>
<text x="413.7" y="962" text-anchor="middle" transform="rotate(180 413.7 959)" font-family="Liberation Sans, sans-serif" font-size="10" font-style="italic" fill="#d8eeff" letter-spacing="1.2">LCEDA</text>
<rect x="1043.5" y="368.7" width="46" height="27" fill="#c29d36"/>
<rect x="1046.5" y="438.6" width="43" height="34.5" fill="#c29d36"/>
<ellipse cx="1066.8" cy="530.0" rx="23.3" ry="23" fill="#c29d36"/>
<ellipse cx="1066.8" cy="603.4" rx="23.3" ry="23" fill="#c29d36"/>
<ellipse cx="1066.8" cy="675.8" rx="23.3" ry="23" fill="#c29d36"/>
<ellipse cx="1066.8" cy="749.7" rx="23.3" ry="23" fill="#c29d36"/>
<ellipse cx="1066.8" cy="823.1" rx="23.3" ry="23" fill="#c29d36"/>
<ellipse cx="1299.5" cy="383.2" rx="23.5" ry="23" fill="#c29d36"/>
<ellipse cx="1301" cy="383.2" rx="8.5" ry="13.5" fill="#5a562a"/>
<ellipse cx="1299.5" cy="457.6" rx="23.5" ry="23" fill="#c29d36"/>
<ellipse cx="1301" cy="457.6" rx="8.5" ry="13.5" fill="#5a562a"/>
<ellipse cx="1299.5" cy="530.0" rx="23.5" ry="23" fill="#c29d36"/>
<ellipse cx="1301" cy="530.0" rx="8.5" ry="13.5" fill="#5a562a"/>
<ellipse cx="1299.5" cy="603.4" rx="23.5" ry="23" fill="#c29d36"/>
<ellipse cx="1301" cy="603.4" rx="8.5" ry="13.5" fill="#5a562a"/>
<ellipse cx="1299.5" cy="675.8" rx="23.5" ry="23" fill="#c29d36"/>
<ellipse cx="1301" cy="675.8" rx="8.5" ry="13.5" fill="#5a562a"/>
<ellipse cx="1299.5" cy="749.7" rx="23.5" ry="23" fill="#c29d36"/>
<ellipse cx="1301" cy="749.7" rx="8.5" ry="13.5" fill="#5a562a"/>
<ellipse cx="1299.5" cy="823.1" rx="23.5" ry="23" fill="#c29d36"/>
<ellipse cx="1301" cy="823.1" rx="8.5" ry="13.5" fill="#5a562a"/>
<ellipse cx="1074.5" cy="376" rx="14" ry="20.2" fill="#929292"/>
<ellipse cx="1066.5" cy="384.2" rx="5.5" ry="11" fill="#6a6440" opacity="0.5"/>
<rect x="1075" y="355.8" width="14" height="40.4" rx="3" fill="#f8f8f8"/>
<rect x="1075" y="384" width="14" height="2.5" fill="#bdbdbd"/>
<rect x="1287.3" y="355.8" width="11.5" height="41.4" rx="2" fill="#f8f8f8"/>
<rect x="1287.3" y="385" width="11.5" height="2.5" fill="#bdbdbd"/>
<ellipse cx="1074.5" cy="452" rx="14" ry="19.8" fill="#929292"/>
<ellipse cx="1066.5" cy="458.6" rx="5.5" ry="11" fill="#6a6440" opacity="0.5"/>
<rect x="1075" y="432.2" width="14" height="39.7" rx="3" fill="#f8f8f8"/>
<rect x="1075" y="460" width="14" height="2.5" fill="#bdbdbd"/>
<rect x="1287.6" y="432.2" width="11.5" height="40.7" rx="2" fill="#f8f8f8"/>
<rect x="1287.6" y="461" width="11.5" height="2.5" fill="#bdbdbd"/>
<ellipse cx="1074.5" cy="526" rx="14" ry="19.5" fill="#929292"/>
<ellipse cx="1066.5" cy="531.0" rx="5.5" ry="11" fill="#6a6440" opacity="0.5"/>
<rect x="1075" y="506.5" width="14" height="39.0" rx="3" fill="#f8f8f8"/>
<rect x="1075" y="534" width="14" height="2.5" fill="#bdbdbd"/>
<rect x="1287.9" y="506.5" width="11.5" height="40.0" rx="2" fill="#f8f8f8"/>
<rect x="1287.9" y="535" width="11.5" height="2.5" fill="#bdbdbd"/>
<ellipse cx="1074.5" cy="601" rx="14" ry="19.2" fill="#929292"/>
<ellipse cx="1066.5" cy="604.4" rx="5.5" ry="11" fill="#6a6440" opacity="0.5"/>
<rect x="1075" y="581.8" width="14" height="38.3" rx="3" fill="#f8f8f8"/>
<rect x="1075" y="609" width="14" height="2.5" fill="#bdbdbd"/>
<rect x="1288.2" y="581.8" width="11.5" height="39.3" rx="2" fill="#f8f8f8"/>
<rect x="1288.2" y="610" width="11.5" height="2.5" fill="#bdbdbd"/>
<ellipse cx="1074.5" cy="675" rx="14" ry="18.8" fill="#929292"/>
<ellipse cx="1066.5" cy="676.8" rx="5.5" ry="11" fill="#6a6440" opacity="0.5"/>
<rect x="1075" y="656.2" width="14" height="37.7" rx="3" fill="#f8f8f8"/>
<rect x="1075" y="683" width="14" height="2.5" fill="#bdbdbd"/>
<rect x="1288.4" y="656.2" width="11.5" height="38.7" rx="2" fill="#f8f8f8"/>
<rect x="1288.4" y="684" width="11.5" height="2.5" fill="#bdbdbd"/>
<ellipse cx="1074.5" cy="750.5" rx="14" ry="18.5" fill="#929292"/>
<ellipse cx="1066.5" cy="750.7" rx="5.5" ry="11" fill="#6a6440" opacity="0.5"/>
<rect x="1075" y="732.0" width="14" height="37.0" rx="3" fill="#f8f8f8"/>
<rect x="1075" y="758.5" width="14" height="2.5" fill="#bdbdbd"/>
<rect x="1288.7" y="732.0" width="11.5" height="38.0" rx="2" fill="#f8f8f8"/>
<rect x="1288.7" y="759.5" width="11.5" height="2.5" fill="#bdbdbd"/>
<ellipse cx="1074.5" cy="825.5" rx="14" ry="18.2" fill="#929292"/>
<ellipse cx="1066.5" cy="824.1" rx="5.5" ry="11" fill="#6a6440" opacity="0.5"/>
<rect x="1075" y="807.3" width="14" height="36.3" rx="3" fill="#f8f8f8"/>
<rect x="1075" y="833.5" width="14" height="2.5" fill="#bdbdbd"/>
<rect x="1289.0" y="807.3" width="11.5" height="37.3" rx="2" fill="#f8f8f8"/>
<rect x="1289.0" y="834.5" width="11.5" height="2.5" fill="#bdbdbd"/>
<path d="M 1087,301 Q 1087,295 1093,295 L 1098,295 L 1098,898.5 L 1087,898.5 Z" fill="#272727"/>
<path d="M 1098,295 L 1170,295 C 1172,306 1181,313 1194.5,313 C 1208,313 1217,306 1219,295 L 1289,295 L 1291.3,898.5 L 1098,898.5 Z" fill="#4a4a4a"/>
<rect x="1140" y="895" width="151" height="1.6" fill="#6c6568" opacity="0.8"/>
<rect x="1098" y="896.6" width="193.2" height="1.9" fill="#353535"/>
<g transform="translate(1179.6,532.0) rotate(90) scale(0.4318,0.4783) translate(-8.0,0)" fill="#d6d6d6" stroke="#4a4a4a" stroke-width="2.2">
<text x="0.0" y="0" font-family="Liberation Sans, sans-serif" font-size="100">DIP-</text>
<path transform="translate(200.0,0)" d="M 37.2,0 L 28.4,0 L 28.4,-54 Q 25,-50.6 19.5,-47.5 Q 15,-45.1 10.9,-43.7 L 10.9,-51.8 Q 18,-55 23.5,-59.7 Q 29,-64.5 31.5,-69 L 37.2,-69 Z"/>
<text x="255.6" y="0" font-family="Liberation Sans, sans-serif" font-size="100">4</text>
</g>
<path d="M 1457.5,403 L 1500,424" stroke="#27cbee" stroke-width="33" stroke-linecap="round" fill="none"/>
<path d="M 1413,548 C 1414,600 1428,650 1436.5,686 C 1441,712 1482,712 1482,686 C 1482,672 1474,664 1467,652 L 1440,600 Z" fill="#29cff2"/>
<path d="M 1588.5,532.0 L 1588.0,547.9 L 1587.0,560.5 L 1585.4,572.0 L 1583.3,582.8 L 1580.6,592.8 L 1577.4,602.1 L 1573.7,610.8 L 1569.5,618.8 L 1564.8,626.2 L 1559.7,632.8 L 1554.0,638.7 L 1548.0,643.9 L 1541.4,648.3 L 1534.5,652.0 L 1527.0,654.8 L 1519.0,656.9 L 1510.2,658.1 L 1499.3,658.5 L 1488.3,658.1 L 1479.6,656.9 L 1471.6,654.8 L 1464.2,652.0 L 1457.4,648.3 L 1450.9,643.9 L 1445.0,638.7 L 1439.5,632.8 L 1434.5,626.2 L 1430.1,618.8 L 1426.1,610.8 L 1422.6,602.1 L 1419.7,592.8 L 1417.3,582.8 L 1415.5,572.0 L 1414.2,560.5 L 1413.6,547.9 L 1413.5,532.0 L 1414.0,516.1 L 1415.0,503.5 L 1416.6,492.0 L 1418.7,481.2 L 1421.4,471.2 L 1424.6,461.9 L 1428.3,453.2 L 1432.5,445.2 L 1437.2,437.8 L 1442.3,431.2 L 1448.0,425.3 L 1454.0,420.1 L 1460.6,415.7 L 1467.5,412.0 L 1475.0,409.2 L 1483.0,407.1 L 1491.8,405.9 L 1502.7,405.5 L 1513.7,405.9 L 1522.4,407.1 L 1530.4,409.2 L 1537.8,412.0 L 1544.6,415.7 L 1551.1,420.1 L 1557.0,425.3 L 1562.5,431.2 L 1567.5,437.8 L 1571.9,445.2 L 1575.9,453.2 L 1579.4,461.9 L 1582.3,471.2 L 1584.7,481.2 L 1586.5,492.0 L 1587.8,503.5 L 1588.4,516.1 Z" fill="url(#gC)"/>
<path d="M 1430,462 C 1415,515 1415,585 1434,628" fill="none" stroke="#1cabd0" stroke-width="8" opacity="0.45" stroke-linecap="round"/>
<path d="M 1440,640 C 1446,662 1452,676 1456,690" fill="none" stroke="#3be9ff" stroke-width="10" opacity="0.5" stroke-linecap="round"/>
<rect x="1513.5" y="575" width="12" height="21.5" fill="#b4fcff" opacity="0.85"/>
<path d="M 886.5,834 C 885,815 902,808 913,815 C 922,821 928,838 936,856 C 948,882 963,906 969.5,942 L 905,900 C 902,880 888,856 886.5,834 Z" fill="#27c6ea"/>
<path d="M 880,1110 L 924,1110 L 924,1124 C 924,1148 880,1148 880,1124 Z" fill="#27c9ee"/>
<path d="M 971.9,997.5 L 971.7,1018.6 L 971.0,1032.7 L 970.0,1044.8 L 968.5,1055.7 L 966.6,1065.6 L 964.3,1074.6 L 961.5,1082.8 L 958.4,1090.3 L 954.8,1097.1 L 950.8,1103.2 L 946.4,1108.6 L 941.5,1113.3 L 936.2,1117.2 L 930.4,1120.5 L 924.1,1123.0 L 917.0,1124.8 L 908.7,1125.9 L 896.3,1126.3 L 883.9,1125.9 L 875.6,1124.8 L 868.5,1123.0 L 862.2,1120.5 L 856.4,1117.2 L 851.1,1113.3 L 846.2,1108.6 L 841.8,1103.2 L 837.8,1097.1 L 834.2,1090.3 L 831.1,1082.8 L 828.3,1074.6 L 826.0,1065.6 L 824.1,1055.7 L 822.6,1044.8 L 821.6,1032.7 L 820.9,1018.6 L 820.7,997.5 L 820.9,976.4 L 821.6,962.3 L 822.6,950.2 L 824.1,939.3 L 826.0,929.4 L 828.3,920.4 L 831.1,912.2 L 834.2,904.7 L 837.8,897.9 L 841.8,891.8 L 846.2,886.4 L 851.1,881.7 L 856.4,877.8 L 862.2,874.5 L 868.5,872.0 L 875.6,870.2 L 883.9,869.1 L 896.3,868.7 L 908.7,869.1 L 917.0,870.2 L 924.1,872.0 L 930.4,874.5 L 936.2,877.8 L 941.5,881.7 L 946.4,886.4 L 950.8,891.8 L 954.8,897.9 L 958.4,904.7 L 961.5,912.2 L 964.3,920.4 L 966.6,929.4 L 968.5,939.3 L 970.0,950.2 L 971.0,962.3 L 971.7,976.4 Z" fill="url(#gC2)"/>
<path d="M 971.9,997.5 L 971.7,1018.6 L 971.0,1032.7 L 970.0,1044.8 L 968.5,1055.7 L 966.6,1065.6 L 964.3,1074.6 L 961.5,1082.8 L 958.4,1090.3 L 954.8,1097.1 L 950.8,1103.2 L 946.4,1108.6 L 941.5,1113.3 L 936.2,1117.2 L 930.4,1120.5 L 924.1,1123.0 L 917.0,1124.8 L 908.7,1125.9 L 896.3,1126.3 L 883.9,1125.9 L 875.6,1124.8 L 868.5,1123.0 L 862.2,1120.5 L 856.4,1117.2 L 851.1,1113.3 L 846.2,1108.6 L 841.8,1103.2 L 837.8,1097.1 L 834.2,1090.3 L 831.1,1082.8 L 828.3,1074.6 L 826.0,1065.6 L 824.1,1055.7 L 822.6,1044.8 L 821.6,1032.7 L 820.9,1018.6 L 820.7,997.5 L 820.9,976.4 L 821.6,962.3 L 822.6,950.2 L 824.1,939.3 L 826.0,929.4 L 828.3,920.4 L 831.1,912.2 L 834.2,904.7 L 837.8,897.9 L 841.8,891.8 L 846.2,886.4 L 851.1,881.7 L 856.4,877.8 L 862.2,874.5 L 868.5,872.0 L 875.6,870.2 L 883.9,869.1 L 896.3,868.7 L 908.7,869.1 L 917.0,870.2 L 924.1,872.0 L 930.4,874.5 L 936.2,877.8 L 941.5,881.7 L 946.4,886.4 L 950.8,891.8 L 954.8,897.9 L 958.4,904.7 L 961.5,912.2 L 964.3,920.4 L 966.6,929.4 L 968.5,939.3 L 970.0,950.2 L 971.0,962.3 L 971.7,976.4 Z" fill="url(#gC2top)"/>
<rect x="886.5" y="1056" width="11" height="15.5" fill="#b4fcff" opacity="0.85"/>
<polygon points="234,300 300,273 314,281 325,296 325,300 322,302 322,345 324,349 315,356 262,356 234,343" fill="#1a1a1a"/>
<polygon points="232,266 290,266 300,276 300,333 290,343 232,343 222,333 222,276" fill="#404040"/>
<polygon points="175,250 202,250 272,293 272,315 248,315 178,271 175,268" fill="#8e6c14"/>
<polygon points="192,250 202,250 272,293 262,293 192,254" fill="#9b7a1a"/>
<rect x="175" y="250" width="17" height="18" fill="#fff12e"/>
<polygon points="1691,310 1704,298 1760,291 1790,340 1770,372 1752,379 1702,379 1691,368 1691,344 1694,342 1694,318 1691,316" fill="#1a1a1a"/>
<polygon points="1729,291 1785,291 1795,301 1795,356 1785,366 1729,366 1719,356 1719,301" fill="#404040"/>
<polygon points="1746.5,315.5 1820,276.5 1848,276.5 1848,296 1767,337.7 1746.5,337.7" fill="#8e6c14"/>
<polygon points="1746.5,315.5 1820,276.5 1831,276.5 1831,282 1757,321" fill="#9b7a1a"/>
<rect x="1831" y="276.5" width="17" height="17" fill="#fff12e"/>
<polygon points="1698,620 1708,608 1730,605 1790,610 1790,675 1740,680 1708,680 1698,668 1698,652 1701,650 1701,626 1698,624" fill="#1a1a1a"/>
<rect x="1725.5" y="602" width="76" height="77.5" rx="9" fill="#404040"/>
<polygon points="1753.7,629 1831,620 1856,620 1856,643.5 1831,645 1753.7,651" fill="#8e6c14"/>
<polygon points="1753.7,629 1831,620 1840,620 1840,623 1770,631" fill="#9b7a1a"/>
<rect x="1840" y="622.5" width="16" height="17" fill="#fff12e"/>
<polygon points="1698,950 1708,938 1770,936 1795,946 1795,1010 1740,1020 1716,1014 1698,1000 1698,984 1701,982 1701,958 1698,956" fill="#1a1a1a"/>
<rect x="1725.5" y="944" width="76" height="78.5" rx="9" fill="#404040"/>
<polygon points="1753.7,971.7 1778,971.7 1857.8,998 1857.8,1019 1831,1019 1753.7,994.4" fill="#8e6c14"/>
<polygon points="1753.7,971.7 1778,971.7 1857.8,998 1857.8,1001 1840,1001 1760,976" fill="#9b7a1a"/>
<rect x="1840" y="1001.5" width="17.5" height="17" fill="#fff12e"/>
<polygon points="240,862 296,855 312,857 319,864 319,880 316,882 316,908 319,910 319,924 310,932 250,936" fill="#1a1a1a"/>
<rect x="215.5" y="859" width="79.5" height="80" rx="9" fill="#404040"/>
<polygon points="264,889.5 184,904 167,909 167,928.7 193.6,926.8 264,911.6" fill="#8e6c14"/>
<polygon points="264,889.5 184,904 184,909 264,894" fill="#9b7a1a"/>
<rect x="167" y="909.5" width="17" height="17.5" fill="#fff12e"/>
<polygon points="318,976 241,976 132,1018 132,1187 218,1187 318,1120" fill="#181818"/>
<rect x="131" y="1014" width="87" height="85" rx="5" fill="#343434"/>
<rect x="131" y="1100" width="87" height="87" rx="5" fill="#343434"/>
<rect x="139" y="1022" width="72" height="68" rx="3" fill="#2c2c2c"/>
<rect x="139" y="1108" width="72" height="70" rx="3" fill="#2c2c2c"/>
<rect x="168" y="1036" width="35" height="33" fill="#151515"/>
<rect x="167" y="1122.5" width="34" height="32" fill="#151515"/>
<polygon points="236,1200 250,1194 300,1192 313,1200 313,1216 310,1218 310,1248 313,1250 313,1258 300,1269 262,1276" fill="#1a1a1a"/>
<rect x="208" y="1208" width="79" height="81.5" rx="9" fill="#404040"/>
<polygon points="258,1237.4 232,1237.4 161,1289 159,1292 159,1314 185.7,1314 258,1259.5" fill="#8e6c14"/>
<polygon points="258,1237.4 232,1237.4 161,1289 159,1297 176,1297 240,1243 258,1243" fill="#9b7a1a"/>
<rect x="159" y="1297" width="16.6" height="17" fill="#fff12e"/>
<g opacity="0.5" fill="#fff" stroke="#fff" stroke-width="1.6" font-weight="bold">
<text transform="translate(762.8,750) scale(0.7816,1) translate(-4.7,0)" font-family="Liberation Sans, sans-serif" font-size="117">C</text>
<text transform="translate(831.0,750) scale(0.9998,1) translate(-3.5,0)" font-family="Liberation Sans, sans-serif" font-size="117">a</text>
<text transform="translate(903.0,750) scale(0.9918,1) translate(-7.6,0)" font-family="Liberation Sans, sans-serif" font-size="117">p</text>
<text transform="translate(974.8,750) scale(0.9935,1) translate(-7.6,0)" font-family="Liberation Sans, sans-serif" font-size="117">p</text>
<text transform="translate(1042.3,750) scale(0.9740,1) translate(-4.7,0)" font-family="Liberation Sans, sans-serif" font-size="117">e</text>
<text transform="translate(1110.9,750) scale(1.0310,1) translate(-8.2,0)" font-family="Liberation Sans, sans-serif" font-size="117">h</text>
</g>
</svg></body></html>
